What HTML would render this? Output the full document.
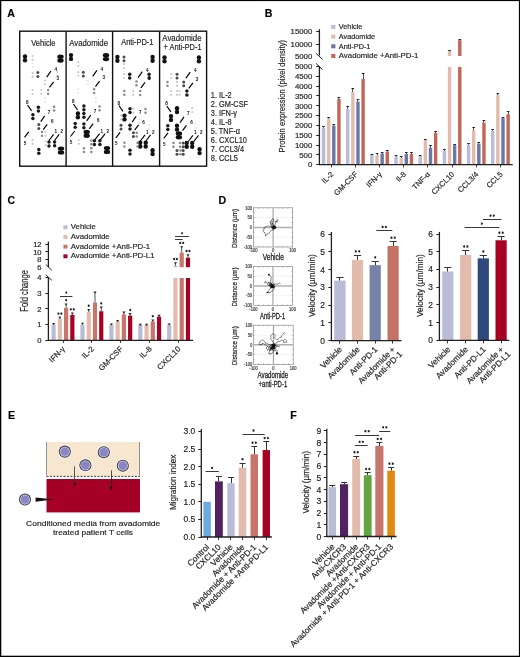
<!DOCTYPE html>
<html><head><meta charset="utf-8"><title>Figure</title>
<style>html,body{margin:0;padding:0;background:#fff;width:520px;height:657px;overflow:hidden;}text{font-family:"Liberation Sans", sans-serif;} text{stroke:#231f20;stroke-width:0.18px;paint-order:stroke;}</style>
</head><body>
<div style="position:absolute;left:0;top:0;width:520px;height:657px;will-change:transform;opacity:0.999">
<svg width="520" height="657" viewBox="0 0 520 657" style="display:block;font-family:'Liberation Sans', sans-serif">
<text transform="translate(7.30,17.20)" font-size="10.6" text-anchor="start" fill="#000" font-weight="bold" >A</text>
<rect x="19.7" y="31.2" width="186.90" height="135" fill="none" stroke="#111" stroke-width="1.4"/>
<line x1="66.10" y1="31.20" x2="66.10" y2="166.20" stroke="#111" stroke-width="1.4" />
<line x1="112.60" y1="31.20" x2="112.60" y2="166.20" stroke="#111" stroke-width="1.4" />
<line x1="159.60" y1="31.20" x2="159.60" y2="166.20" stroke="#111" stroke-width="1.4" />
<text transform="translate(43.40,45.60)" font-size="8.5" text-anchor="middle" fill="#231f20" textLength="24.3" lengthAdjust="spacingAndGlyphs" >Vehicle</text>
<text transform="translate(88.60,45.60)" font-size="8.5" text-anchor="middle" fill="#231f20" textLength="38.8" lengthAdjust="spacingAndGlyphs" >Avadomide</text>
<text transform="translate(137.30,45.40)" font-size="8.5" text-anchor="middle" fill="#231f20" textLength="32.3" lengthAdjust="spacingAndGlyphs" >Anti-PD-1</text>
<text transform="translate(181.90,40.70)" font-size="8.5" text-anchor="middle" fill="#231f20" textLength="39.2" lengthAdjust="spacingAndGlyphs" >Avadomide</text>
<text transform="translate(182.50,49.90)" font-size="8.5" text-anchor="middle" fill="#231f20" textLength="38.0" lengthAdjust="spacingAndGlyphs" >+ Anti-PD-1</text>
<circle cx="25.00" cy="56.50" r="2.20" fill="#111" />
<circle cx="25.00" cy="60.30" r="2.20" fill="#111" />
<ellipse cx="60.50" cy="56.70" rx="3.19" ry="2.20" fill="#111" />
<ellipse cx="60.50" cy="60.50" rx="3.19" ry="2.20" fill="#111" />
<circle cx="32.60" cy="56.00" r="1.10" fill="#c8c8c8" />
<circle cx="32.60" cy="59.80" r="1.10" fill="#c8c8c8" />
<circle cx="32.60" cy="63.40" r="1.00" fill="#e4e4e4" />
<circle cx="32.60" cy="67.20" r="1.00" fill="#e4e4e4" />
<circle cx="32.60" cy="73.00" r="1.10" fill="#c8c8c8" />
<circle cx="32.60" cy="76.80" r="1.10" fill="#c8c8c8" />
<circle cx="37.90" cy="72.60" r="1.50" fill="#4a4a4a" />
<circle cx="37.90" cy="76.40" r="1.50" fill="#4a4a4a" />
<circle cx="44.90" cy="80.50" r="1.10" fill="#c8c8c8" />
<circle cx="44.90" cy="84.30" r="1.10" fill="#c8c8c8" />
<circle cx="32.60" cy="90.00" r="1.10" fill="#c8c8c8" />
<circle cx="32.60" cy="93.80" r="1.10" fill="#c8c8c8" />
<circle cx="41.20" cy="90.00" r="1.10" fill="#c8c8c8" />
<circle cx="41.20" cy="93.80" r="1.10" fill="#c8c8c8" />
<circle cx="48.10" cy="90.00" r="1.25" fill="#8a8a8a" />
<circle cx="48.10" cy="93.80" r="1.25" fill="#8a8a8a" />
<circle cx="57.40" cy="72.00" r="1.10" fill="#c8c8c8" />
<circle cx="57.40" cy="75.80" r="1.10" fill="#c8c8c8" />
<circle cx="38.40" cy="107.20" r="1.75" fill="#1a1a1a" />
<circle cx="38.40" cy="111.00" r="1.75" fill="#1a1a1a" />
<circle cx="32.90" cy="114.70" r="1.75" fill="#1a1a1a" />
<circle cx="32.90" cy="118.50" r="1.75" fill="#1a1a1a" />
<circle cx="38.80" cy="124.60" r="1.50" fill="#4a4a4a" />
<circle cx="38.80" cy="128.40" r="1.50" fill="#4a4a4a" />
<circle cx="42.00" cy="132.00" r="1.25" fill="#8a8a8a" />
<circle cx="42.00" cy="135.80" r="1.25" fill="#8a8a8a" />
<circle cx="45.70" cy="132.00" r="1.10" fill="#c8c8c8" />
<circle cx="45.70" cy="135.80" r="1.10" fill="#c8c8c8" />
<circle cx="49.00" cy="142.10" r="1.75" fill="#1a1a1a" />
<circle cx="49.00" cy="145.90" r="1.75" fill="#1a1a1a" />
<circle cx="54.60" cy="141.90" r="1.75" fill="#1a1a1a" />
<circle cx="54.60" cy="145.70" r="1.75" fill="#1a1a1a" />
<ellipse cx="61.00" cy="148.60" rx="3.19" ry="2.20" fill="#111" />
<ellipse cx="61.00" cy="152.40" rx="3.19" ry="2.20" fill="#111" />
<circle cx="38.80" cy="149.50" r="1.75" fill="#1a1a1a" />
<circle cx="38.80" cy="153.30" r="1.75" fill="#1a1a1a" />
<circle cx="32.60" cy="140.00" r="1.10" fill="#c8c8c8" />
<circle cx="32.60" cy="143.80" r="1.10" fill="#c8c8c8" />
<circle cx="45.60" cy="141.50" r="1.10" fill="#c8c8c8" />
<circle cx="45.60" cy="145.30" r="1.10" fill="#c8c8c8" />
<circle cx="54.10" cy="106.80" r="1.25" fill="#8a8a8a" />
<circle cx="54.10" cy="110.60" r="1.25" fill="#8a8a8a" />
<circle cx="45.10" cy="98.00" r="1.00" fill="#e4e4e4" />
<circle cx="45.10" cy="101.80" r="1.00" fill="#e4e4e4" />
<circle cx="29.10" cy="132.00" r="1.00" fill="#e4e4e4" />
<circle cx="29.10" cy="135.80" r="1.00" fill="#e4e4e4" />
<circle cx="71.00" cy="55.10" r="2.20" fill="#111" />
<circle cx="71.00" cy="58.90" r="2.20" fill="#111" />
<ellipse cx="106.00" cy="55.30" rx="3.19" ry="2.20" fill="#111" />
<ellipse cx="106.00" cy="59.10" rx="3.19" ry="2.20" fill="#111" />
<circle cx="78.30" cy="62.00" r="1.10" fill="#c8c8c8" />
<circle cx="78.30" cy="65.80" r="1.10" fill="#c8c8c8" />
<circle cx="78.30" cy="72.00" r="1.10" fill="#c8c8c8" />
<circle cx="78.30" cy="75.80" r="1.10" fill="#c8c8c8" />
<circle cx="83.30" cy="72.20" r="1.50" fill="#4a4a4a" />
<circle cx="83.30" cy="76.00" r="1.50" fill="#4a4a4a" />
<circle cx="94.10" cy="89.20" r="1.25" fill="#8a8a8a" />
<circle cx="94.10" cy="93.00" r="1.25" fill="#8a8a8a" />
<circle cx="87.80" cy="80.50" r="1.00" fill="#e4e4e4" />
<circle cx="87.80" cy="84.30" r="1.00" fill="#e4e4e4" />
<circle cx="78.30" cy="89.00" r="1.00" fill="#e4e4e4" />
<circle cx="78.30" cy="92.80" r="1.00" fill="#e4e4e4" />
<circle cx="83.90" cy="106.00" r="1.75" fill="#1a1a1a" />
<circle cx="83.90" cy="109.80" r="1.75" fill="#1a1a1a" />
<circle cx="83.90" cy="113.50" r="1.75" fill="#1a1a1a" />
<circle cx="83.90" cy="117.30" r="1.75" fill="#1a1a1a" />
<circle cx="77.90" cy="113.50" r="2.20" fill="#111" />
<circle cx="77.90" cy="117.30" r="2.20" fill="#111" />
<circle cx="83.90" cy="124.00" r="1.75" fill="#1a1a1a" />
<circle cx="83.90" cy="127.80" r="1.75" fill="#1a1a1a" />
<circle cx="75.20" cy="123.40" r="1.75" fill="#1a1a1a" />
<circle cx="75.20" cy="127.20" r="1.75" fill="#1a1a1a" />
<ellipse cx="86.70" cy="132.00" rx="3.19" ry="2.20" fill="#111" />
<ellipse cx="86.70" cy="135.80" rx="3.19" ry="2.20" fill="#111" />
<circle cx="94.40" cy="140.80" r="1.75" fill="#1a1a1a" />
<circle cx="94.40" cy="144.60" r="1.75" fill="#1a1a1a" />
<circle cx="99.90" cy="140.80" r="1.75" fill="#1a1a1a" />
<circle cx="99.90" cy="144.60" r="1.75" fill="#1a1a1a" />
<ellipse cx="107.00" cy="148.10" rx="3.19" ry="2.20" fill="#111" />
<ellipse cx="107.00" cy="151.90" rx="3.19" ry="2.20" fill="#111" />
<circle cx="91.30" cy="140.50" r="1.25" fill="#8a8a8a" />
<circle cx="91.30" cy="144.30" r="1.25" fill="#8a8a8a" />
<circle cx="91.30" cy="148.30" r="1.25" fill="#8a8a8a" />
<circle cx="91.30" cy="152.10" r="1.25" fill="#8a8a8a" />
<circle cx="83.90" cy="148.30" r="1.25" fill="#8a8a8a" />
<circle cx="83.90" cy="152.10" r="1.25" fill="#8a8a8a" />
<circle cx="78.80" cy="140.00" r="1.10" fill="#c8c8c8" />
<circle cx="78.80" cy="143.80" r="1.10" fill="#c8c8c8" />
<circle cx="99.60" cy="106.40" r="1.25" fill="#8a8a8a" />
<circle cx="99.60" cy="110.20" r="1.25" fill="#8a8a8a" />
<circle cx="95.80" cy="98.00" r="1.00" fill="#e4e4e4" />
<circle cx="95.80" cy="101.80" r="1.00" fill="#e4e4e4" />
<circle cx="117.40" cy="56.90" r="2.20" fill="#111" />
<circle cx="117.40" cy="60.70" r="2.20" fill="#111" />
<circle cx="152.60" cy="56.90" r="2.20" fill="#111" />
<circle cx="152.60" cy="60.70" r="2.20" fill="#111" />
<circle cx="124.00" cy="56.90" r="1.50" fill="#4a4a4a" />
<circle cx="124.00" cy="60.70" r="1.50" fill="#4a4a4a" />
<circle cx="124.00" cy="64.20" r="1.10" fill="#c8c8c8" />
<circle cx="124.00" cy="68.00" r="1.10" fill="#c8c8c8" />
<circle cx="129.70" cy="74.20" r="1.75" fill="#1a1a1a" />
<circle cx="129.70" cy="78.00" r="1.75" fill="#1a1a1a" />
<circle cx="149.10" cy="74.20" r="1.75" fill="#1a1a1a" />
<circle cx="149.10" cy="78.00" r="1.75" fill="#1a1a1a" />
<circle cx="124.00" cy="74.20" r="1.10" fill="#c8c8c8" />
<circle cx="124.00" cy="78.00" r="1.10" fill="#c8c8c8" />
<circle cx="136.50" cy="81.40" r="1.25" fill="#8a8a8a" />
<circle cx="136.50" cy="85.20" r="1.25" fill="#8a8a8a" />
<circle cx="140.20" cy="91.10" r="1.25" fill="#8a8a8a" />
<circle cx="140.20" cy="94.90" r="1.25" fill="#8a8a8a" />
<circle cx="124.40" cy="91.00" r="1.25" fill="#8a8a8a" />
<circle cx="124.40" cy="94.80" r="1.25" fill="#8a8a8a" />
<circle cx="133.20" cy="91.00" r="1.10" fill="#c8c8c8" />
<circle cx="133.20" cy="94.80" r="1.10" fill="#c8c8c8" />
<circle cx="130.00" cy="108.70" r="1.75" fill="#1a1a1a" />
<circle cx="130.00" cy="112.50" r="1.75" fill="#1a1a1a" />
<circle cx="124.50" cy="115.60" r="2.20" fill="#111" />
<circle cx="124.50" cy="119.40" r="2.20" fill="#111" />
<circle cx="130.00" cy="125.30" r="1.75" fill="#1a1a1a" />
<circle cx="130.00" cy="129.10" r="1.75" fill="#1a1a1a" />
<circle cx="121.00" cy="125.30" r="1.50" fill="#4a4a4a" />
<circle cx="121.00" cy="129.10" r="1.50" fill="#4a4a4a" />
<circle cx="133.40" cy="132.70" r="1.50" fill="#4a4a4a" />
<circle cx="133.40" cy="136.50" r="1.50" fill="#4a4a4a" />
<circle cx="136.70" cy="132.70" r="1.25" fill="#8a8a8a" />
<circle cx="136.70" cy="136.50" r="1.25" fill="#8a8a8a" />
<circle cx="140.20" cy="142.70" r="2.20" fill="#111" />
<circle cx="140.20" cy="146.50" r="2.20" fill="#111" />
<circle cx="145.70" cy="142.70" r="2.20" fill="#111" />
<circle cx="145.70" cy="146.50" r="2.20" fill="#111" />
<circle cx="152.60" cy="150.20" r="2.20" fill="#111" />
<circle cx="152.60" cy="154.00" r="2.20" fill="#111" />
<circle cx="130.00" cy="150.20" r="1.75" fill="#1a1a1a" />
<circle cx="130.00" cy="154.00" r="1.75" fill="#1a1a1a" />
<circle cx="124.40" cy="142.70" r="1.25" fill="#8a8a8a" />
<circle cx="124.40" cy="146.50" r="1.25" fill="#8a8a8a" />
<circle cx="137.50" cy="142.70" r="1.25" fill="#8a8a8a" />
<circle cx="137.50" cy="146.50" r="1.25" fill="#8a8a8a" />
<circle cx="145.50" cy="109.00" r="1.25" fill="#8a8a8a" />
<circle cx="145.50" cy="112.80" r="1.25" fill="#8a8a8a" />
<circle cx="121.10" cy="115.60" r="1.10" fill="#c8c8c8" />
<circle cx="121.10" cy="119.40" r="1.10" fill="#c8c8c8" />
<circle cx="133.30" cy="108.70" r="1.10" fill="#c8c8c8" />
<circle cx="133.30" cy="112.50" r="1.10" fill="#c8c8c8" />
<circle cx="139.70" cy="119.40" r="1.00" fill="#e4e4e4" />
<circle cx="139.70" cy="123.20" r="1.00" fill="#e4e4e4" />
<circle cx="148.70" cy="125.00" r="1.00" fill="#e4e4e4" />
<circle cx="148.70" cy="128.80" r="1.00" fill="#e4e4e4" />
<circle cx="164.50" cy="57.40" r="2.20" fill="#111" />
<circle cx="164.50" cy="61.20" r="2.20" fill="#111" />
<circle cx="198.90" cy="57.40" r="2.20" fill="#111" />
<circle cx="198.90" cy="61.20" r="2.20" fill="#111" />
<circle cx="177.00" cy="74.20" r="1.50" fill="#4a4a4a" />
<circle cx="177.00" cy="78.00" r="1.50" fill="#4a4a4a" />
<circle cx="171.30" cy="74.20" r="1.10" fill="#c8c8c8" />
<circle cx="171.30" cy="78.00" r="1.10" fill="#c8c8c8" />
<circle cx="167.50" cy="81.90" r="1.25" fill="#8a8a8a" />
<circle cx="167.50" cy="85.70" r="1.25" fill="#8a8a8a" />
<circle cx="177.00" cy="81.90" r="1.10" fill="#c8c8c8" />
<circle cx="177.00" cy="85.70" r="1.10" fill="#c8c8c8" />
<circle cx="183.70" cy="81.90" r="1.50" fill="#4a4a4a" />
<circle cx="183.70" cy="85.70" r="1.50" fill="#4a4a4a" />
<circle cx="186.90" cy="91.10" r="1.75" fill="#1a1a1a" />
<circle cx="186.90" cy="94.90" r="1.75" fill="#1a1a1a" />
<circle cx="171.00" cy="91.00" r="1.10" fill="#c8c8c8" />
<circle cx="171.00" cy="94.80" r="1.10" fill="#c8c8c8" />
<circle cx="177.00" cy="91.00" r="1.10" fill="#c8c8c8" />
<circle cx="177.00" cy="94.80" r="1.10" fill="#c8c8c8" />
<circle cx="179.50" cy="91.00" r="1.10" fill="#c8c8c8" />
<circle cx="179.50" cy="94.80" r="1.10" fill="#c8c8c8" />
<circle cx="177.00" cy="108.20" r="2.20" fill="#111" />
<circle cx="177.00" cy="112.00" r="2.20" fill="#111" />
<circle cx="171.00" cy="116.10" r="2.20" fill="#111" />
<circle cx="171.00" cy="119.90" r="2.20" fill="#111" />
<circle cx="167.80" cy="125.80" r="1.75" fill="#1a1a1a" />
<circle cx="167.80" cy="129.60" r="1.75" fill="#1a1a1a" />
<circle cx="177.00" cy="125.80" r="2.20" fill="#111" />
<circle cx="177.00" cy="129.60" r="2.20" fill="#111" />
<ellipse cx="178.90" cy="133.40" rx="3.19" ry="2.20" fill="#111" />
<ellipse cx="178.90" cy="137.20" rx="3.19" ry="2.20" fill="#111" />
<circle cx="186.70" cy="142.90" r="2.20" fill="#111" />
<circle cx="186.70" cy="146.70" r="2.20" fill="#111" />
<circle cx="192.20" cy="142.90" r="2.20" fill="#111" />
<circle cx="192.20" cy="146.70" r="2.20" fill="#111" />
<circle cx="199.60" cy="149.30" r="2.20" fill="#111" />
<circle cx="199.60" cy="153.10" r="2.20" fill="#111" />
<circle cx="177.00" cy="150.40" r="1.50" fill="#4a4a4a" />
<circle cx="177.00" cy="154.20" r="1.50" fill="#4a4a4a" />
<circle cx="180.50" cy="150.40" r="1.25" fill="#8a8a8a" />
<circle cx="180.50" cy="154.20" r="1.25" fill="#8a8a8a" />
<circle cx="183.20" cy="142.90" r="1.50" fill="#4a4a4a" />
<circle cx="183.20" cy="146.70" r="1.50" fill="#4a4a4a" />
<circle cx="183.20" cy="150.40" r="1.50" fill="#4a4a4a" />
<circle cx="183.20" cy="154.20" r="1.50" fill="#4a4a4a" />
<circle cx="173.50" cy="143.00" r="1.25" fill="#8a8a8a" />
<circle cx="173.50" cy="146.80" r="1.25" fill="#8a8a8a" />
<circle cx="180.00" cy="143.00" r="1.25" fill="#8a8a8a" />
<circle cx="180.00" cy="146.80" r="1.25" fill="#8a8a8a" />
<circle cx="192.20" cy="108.20" r="1.10" fill="#c8c8c8" />
<circle cx="192.20" cy="112.00" r="1.10" fill="#c8c8c8" />
<circle cx="183.00" cy="116.00" r="1.00" fill="#e4e4e4" />
<circle cx="183.00" cy="119.80" r="1.00" fill="#e4e4e4" />
<circle cx="195.50" cy="124.00" r="1.00" fill="#e4e4e4" />
<circle cx="195.50" cy="127.80" r="1.00" fill="#e4e4e4" />
<line x1="46.70" y1="77.20" x2="50.90" y2="71.20" stroke="#000" stroke-width="1.15" />
<text transform="translate(55.90,71.40) scale(0.82,1)" font-size="5.6" text-anchor="middle" fill="#111" font-weight="bold" style="stroke:none">4</text>
<line x1="49.50" y1="87.40" x2="53.60" y2="81.90" stroke="#000" stroke-width="1.15" />
<text transform="translate(57.80,79.70) scale(0.82,1)" font-size="5.6" text-anchor="middle" fill="#111" font-weight="bold" style="stroke:none">3</text>
<line x1="27.50" y1="105.00" x2="31.60" y2="110.80" stroke="#000" stroke-width="1.15" />
<text transform="translate(27.30,104.00) scale(0.82,1)" font-size="5.6" text-anchor="middle" fill="#111" font-weight="bold" style="stroke:none">8</text>
<line x1="40.70" y1="121.60" x2="44.70" y2="115.90" stroke="#000" stroke-width="1.15" />
<text transform="translate(49.00,113.90) scale(0.82,1)" font-size="5.6" text-anchor="middle" fill="#111" font-weight="bold" style="stroke:none">7</text>
<line x1="43.20" y1="129.70" x2="47.20" y2="124.40" stroke="#000" stroke-width="1.15" />
<text transform="translate(52.20,123.20) scale(0.82,1)" font-size="5.6" text-anchor="middle" fill="#111" font-weight="bold" style="stroke:none">6</text>
<line x1="24.50" y1="137.30" x2="28.70" y2="131.80" stroke="#000" stroke-width="1.15" />
<text transform="translate(25.00,144.90) scale(0.82,1)" font-size="5.6" text-anchor="middle" fill="#111" font-weight="bold" style="stroke:none">5</text>
<line x1="49.00" y1="140.50" x2="53.60" y2="134.40" stroke="#000" stroke-width="1.15" />
<text transform="translate(55.90,133.30) scale(0.82,1)" font-size="5.6" text-anchor="middle" fill="#111" font-weight="bold" style="stroke:none">1</text>
<line x1="54.50" y1="140.50" x2="59.20" y2="134.40" stroke="#000" stroke-width="1.15" />
<text transform="translate(61.90,133.30) scale(0.82,1)" font-size="5.6" text-anchor="middle" fill="#111" font-weight="bold" style="stroke:none">2</text>
<line x1="92.70" y1="76.40" x2="96.90" y2="70.40" stroke="#000" stroke-width="1.15" />
<text transform="translate(101.90,70.60) scale(0.82,1)" font-size="5.6" text-anchor="middle" fill="#111" font-weight="bold" style="stroke:none">4</text>
<line x1="95.50" y1="86.60" x2="99.60" y2="81.10" stroke="#000" stroke-width="1.15" />
<text transform="translate(103.80,78.90) scale(0.82,1)" font-size="5.6" text-anchor="middle" fill="#111" font-weight="bold" style="stroke:none">3</text>
<line x1="73.50" y1="104.20" x2="77.60" y2="110.00" stroke="#000" stroke-width="1.15" />
<text transform="translate(73.30,103.20) scale(0.82,1)" font-size="5.6" text-anchor="middle" fill="#111" font-weight="bold" style="stroke:none">8</text>
<line x1="86.70" y1="120.80" x2="90.70" y2="115.10" stroke="#000" stroke-width="1.15" />
<text transform="translate(95.00,113.10) scale(0.82,1)" font-size="5.6" text-anchor="middle" fill="#111" font-weight="bold" style="stroke:none">7</text>
<line x1="89.20" y1="128.90" x2="93.20" y2="123.60" stroke="#000" stroke-width="1.15" />
<text transform="translate(98.20,122.40) scale(0.82,1)" font-size="5.6" text-anchor="middle" fill="#111" font-weight="bold" style="stroke:none">6</text>
<line x1="70.50" y1="136.50" x2="74.70" y2="131.00" stroke="#000" stroke-width="1.15" />
<text transform="translate(71.00,144.10) scale(0.82,1)" font-size="5.6" text-anchor="middle" fill="#111" font-weight="bold" style="stroke:none">5</text>
<line x1="95.00" y1="139.70" x2="99.60" y2="133.60" stroke="#000" stroke-width="1.15" />
<text transform="translate(101.90,132.50) scale(0.82,1)" font-size="5.6" text-anchor="middle" fill="#111" font-weight="bold" style="stroke:none">1</text>
<line x1="100.50" y1="139.70" x2="105.20" y2="133.60" stroke="#000" stroke-width="1.15" />
<text transform="translate(107.90,132.50) scale(0.82,1)" font-size="5.6" text-anchor="middle" fill="#111" font-weight="bold" style="stroke:none">2</text>
<line x1="138.10" y1="77.70" x2="142.30" y2="71.70" stroke="#000" stroke-width="1.15" />
<text transform="translate(147.30,71.90) scale(0.82,1)" font-size="5.6" text-anchor="middle" fill="#111" font-weight="bold" style="stroke:none">4</text>
<line x1="140.90" y1="87.90" x2="145.00" y2="82.40" stroke="#000" stroke-width="1.15" />
<text transform="translate(149.20,80.20) scale(0.82,1)" font-size="5.6" text-anchor="middle" fill="#111" font-weight="bold" style="stroke:none">3</text>
<line x1="118.90" y1="105.50" x2="123.00" y2="111.30" stroke="#000" stroke-width="1.15" />
<text transform="translate(118.70,104.50) scale(0.82,1)" font-size="5.6" text-anchor="middle" fill="#111" font-weight="bold" style="stroke:none">8</text>
<line x1="132.10" y1="122.10" x2="136.10" y2="116.40" stroke="#000" stroke-width="1.15" />
<text transform="translate(140.40,114.40) scale(0.82,1)" font-size="5.6" text-anchor="middle" fill="#111" font-weight="bold" style="stroke:none">7</text>
<line x1="134.60" y1="130.20" x2="138.60" y2="124.90" stroke="#000" stroke-width="1.15" />
<text transform="translate(143.60,123.70) scale(0.82,1)" font-size="5.6" text-anchor="middle" fill="#111" font-weight="bold" style="stroke:none">6</text>
<line x1="115.90" y1="137.80" x2="120.10" y2="132.30" stroke="#000" stroke-width="1.15" />
<text transform="translate(116.40,145.40) scale(0.82,1)" font-size="5.6" text-anchor="middle" fill="#111" font-weight="bold" style="stroke:none">5</text>
<line x1="140.40" y1="141.00" x2="145.00" y2="134.90" stroke="#000" stroke-width="1.15" />
<text transform="translate(147.30,133.80) scale(0.82,1)" font-size="5.6" text-anchor="middle" fill="#111" font-weight="bold" style="stroke:none">1</text>
<line x1="145.90" y1="141.00" x2="150.60" y2="134.90" stroke="#000" stroke-width="1.15" />
<text transform="translate(153.30,133.80) scale(0.82,1)" font-size="5.6" text-anchor="middle" fill="#111" font-weight="bold" style="stroke:none">2</text>
<line x1="186.00" y1="78.20" x2="190.20" y2="72.20" stroke="#000" stroke-width="1.15" />
<text transform="translate(195.20,72.40) scale(0.82,1)" font-size="5.6" text-anchor="middle" fill="#111" font-weight="bold" style="stroke:none">4</text>
<line x1="188.80" y1="88.40" x2="192.90" y2="82.90" stroke="#000" stroke-width="1.15" />
<text transform="translate(197.10,80.70) scale(0.82,1)" font-size="5.6" text-anchor="middle" fill="#111" font-weight="bold" style="stroke:none">3</text>
<line x1="166.80" y1="106.00" x2="170.90" y2="111.80" stroke="#000" stroke-width="1.15" />
<text transform="translate(166.60,105.00) scale(0.82,1)" font-size="5.6" text-anchor="middle" fill="#111" font-weight="bold" style="stroke:none">8</text>
<line x1="180.00" y1="122.60" x2="184.00" y2="116.90" stroke="#000" stroke-width="1.15" />
<text transform="translate(188.30,114.90) scale(0.82,1)" font-size="5.6" text-anchor="middle" fill="#111" font-weight="bold" style="stroke:none">7</text>
<line x1="182.50" y1="130.70" x2="186.50" y2="125.40" stroke="#000" stroke-width="1.15" />
<text transform="translate(191.50,124.20) scale(0.82,1)" font-size="5.6" text-anchor="middle" fill="#111" font-weight="bold" style="stroke:none">6</text>
<line x1="163.80" y1="138.30" x2="168.00" y2="132.80" stroke="#000" stroke-width="1.15" />
<text transform="translate(164.30,145.90) scale(0.82,1)" font-size="5.6" text-anchor="middle" fill="#111" font-weight="bold" style="stroke:none">5</text>
<line x1="188.30" y1="141.50" x2="192.90" y2="135.40" stroke="#000" stroke-width="1.15" />
<text transform="translate(195.20,134.30) scale(0.82,1)" font-size="5.6" text-anchor="middle" fill="#111" font-weight="bold" style="stroke:none">1</text>
<line x1="193.80" y1="141.50" x2="198.50" y2="135.40" stroke="#000" stroke-width="1.15" />
<text transform="translate(201.20,134.30) scale(0.82,1)" font-size="5.6" text-anchor="middle" fill="#111" font-weight="bold" style="stroke:none">2</text>
<text transform="translate(210.80,97.90) scale(0.89,1)" font-size="8.3" text-anchor="start" fill="#231f20" >1. IL-2</text>
<text transform="translate(210.80,106.95) scale(0.89,1)" font-size="8.3" text-anchor="start" fill="#231f20" >2. GM-CSF</text>
<text transform="translate(210.80,116.00) scale(0.89,1)" font-size="8.3" text-anchor="start" fill="#231f20" >3. IFN-γ</text>
<text transform="translate(210.80,125.05) scale(0.89,1)" font-size="8.3" text-anchor="start" fill="#231f20" >4. IL-8</text>
<text transform="translate(210.80,134.10) scale(0.89,1)" font-size="8.3" text-anchor="start" fill="#231f20" >5. TNF-α</text>
<text transform="translate(210.80,143.15) scale(0.89,1)" font-size="8.3" text-anchor="start" fill="#231f20" >6. CXCL10</text>
<text transform="translate(210.80,152.20) scale(0.89,1)" font-size="8.3" text-anchor="start" fill="#231f20" >7. CCL3/4</text>
<text transform="translate(210.80,161.25) scale(0.89,1)" font-size="8.3" text-anchor="start" fill="#231f20" >8. CCL5</text>
<text transform="translate(264.80,16.90)" font-size="10.6" text-anchor="start" fill="#000" font-weight="bold" >B</text>
<text transform="translate(312.30,167.30)" font-size="7.8" text-anchor="end" fill="#231f20" >0</text>
<text transform="translate(312.30,157.50)" font-size="7.8" text-anchor="end" fill="#231f20" >500</text>
<text transform="translate(312.30,147.70)" font-size="7.8" text-anchor="end" fill="#231f20" >1000</text>
<text transform="translate(312.30,137.90)" font-size="7.8" text-anchor="end" fill="#231f20" >1500</text>
<text transform="translate(312.30,128.10)" font-size="7.8" text-anchor="end" fill="#231f20" >2000</text>
<text transform="translate(312.30,118.30)" font-size="7.8" text-anchor="end" fill="#231f20" >2500</text>
<text transform="translate(312.30,108.50)" font-size="7.8" text-anchor="end" fill="#231f20" >3000</text>
<text transform="translate(312.30,98.70)" font-size="7.8" text-anchor="end" fill="#231f20" >3500</text>
<text transform="translate(312.30,88.90)" font-size="7.8" text-anchor="end" fill="#231f20" >4000</text>
<text transform="translate(312.30,79.10)" font-size="7.8" text-anchor="end" fill="#231f20" >4500</text>
<text transform="translate(312.30,69.10)" font-size="7.8" text-anchor="end" fill="#231f20" >5000</text>
<text transform="translate(312.30,34.30)" font-size="7.8" text-anchor="end" fill="#231f20" >15000</text>
<text transform="translate(312.30,46.80)" font-size="7.8" text-anchor="end" fill="#231f20" >10000</text>
<text transform="translate(312.30,58.80)" font-size="7.8" text-anchor="end" fill="#231f20" >5000</text>
<line x1="316.00" y1="53.40" x2="322.60" y2="59.40" stroke="#231f20" stroke-width="1.0" />
<line x1="316.00" y1="63.40" x2="322.60" y2="69.60" stroke="#231f20" stroke-width="1.0" />
<text transform="translate(284.60,96.20) rotate(-90)" font-size="8.8" text-anchor="middle" fill="#231f20" textLength="112.4" lengthAdjust="spacingAndGlyphs" >Protein expression (pixel density)</text>
<rect x="331.20" y="24.90" width="4.20" height="4.00" fill="#b8bcd5" />
<text transform="translate(338.80,29.30)" font-size="7.3" text-anchor="start" fill="#231f20" >Vehicle</text>
<rect x="331.20" y="34.60" width="4.20" height="4.00" fill="#e2bbad" />
<text transform="translate(338.80,39.00)" font-size="7.3" text-anchor="start" fill="#231f20" >Avadomide</text>
<rect x="331.20" y="44.30" width="4.20" height="4.00" fill="#6a78a6" />
<text transform="translate(338.80,48.70)" font-size="7.3" text-anchor="start" fill="#231f20" >Anti-PD-1</text>
<rect x="331.20" y="54.00" width="4.20" height="4.00" fill="#c1675a" />
<text transform="translate(338.80,58.40)" font-size="7.3" text-anchor="start" fill="#231f20" textLength="79.6" lengthAdjust="spacingAndGlyphs" >Avadomide +Anti-PD-1</text>
<line x1="331.50" y1="164.60" x2="331.50" y2="167.40" stroke="#231f20" stroke-width="0.9" />
<text transform="translate(334.00,174.80) rotate(-45)" font-size="7.6" text-anchor="end" fill="#231f20" >IL-2</text>
<rect x="321.85" y="127.69" width="3.40" height="36.91" fill="#b8bcd5" />
<line x1="323.50" y1="127.69" x2="323.50" y2="126.18" stroke="#222" stroke-width="0.8" />
<line x1="322.25" y1="126.50" x2="324.85" y2="126.50" stroke="#222" stroke-width="1.0" />
<rect x="326.98" y="118.50" width="3.40" height="46.10" fill="#e2bbad" />
<line x1="328.50" y1="118.50" x2="328.50" y2="117.17" stroke="#222" stroke-width="0.8" />
<line x1="327.38" y1="117.50" x2="329.98" y2="117.50" stroke="#222" stroke-width="1.0" />
<rect x="332.11" y="125.69" width="3.40" height="38.91" fill="#6a78a6" />
<line x1="333.50" y1="125.69" x2="333.50" y2="124.22" stroke="#222" stroke-width="0.8" />
<line x1="332.51" y1="124.50" x2="335.11" y2="124.50" stroke="#222" stroke-width="1.0" />
<rect x="337.24" y="98.80" width="3.40" height="65.80" fill="#c1675a" />
<line x1="338.50" y1="98.80" x2="338.50" y2="97.57" stroke="#222" stroke-width="0.8" />
<line x1="337.64" y1="97.50" x2="340.24" y2="97.50" stroke="#222" stroke-width="1.0" />
<line x1="355.50" y1="164.60" x2="355.50" y2="167.40" stroke="#231f20" stroke-width="0.9" />
<text transform="translate(358.17,174.80) rotate(-45)" font-size="7.6" text-anchor="end" fill="#231f20" >GM-CSF</text>
<rect x="346.02" y="108.80" width="3.40" height="55.80" fill="#b8bcd5" />
<line x1="347.50" y1="108.80" x2="347.50" y2="106.78" stroke="#222" stroke-width="0.8" />
<line x1="346.42" y1="106.50" x2="349.02" y2="106.50" stroke="#222" stroke-width="1.0" />
<rect x="351.15" y="91.90" width="3.40" height="72.70" fill="#e2bbad" />
<line x1="352.50" y1="91.90" x2="352.50" y2="88.71" stroke="#222" stroke-width="0.8" />
<line x1="351.55" y1="88.50" x2="354.15" y2="88.50" stroke="#222" stroke-width="1.0" />
<rect x="356.28" y="101.51" width="3.40" height="63.09" fill="#6a78a6" />
<line x1="357.50" y1="101.51" x2="357.50" y2="99.33" stroke="#222" stroke-width="0.8" />
<line x1="356.68" y1="99.50" x2="359.28" y2="99.50" stroke="#222" stroke-width="1.0" />
<rect x="361.41" y="79.01" width="3.40" height="85.59" fill="#c1675a" />
<line x1="363.50" y1="79.01" x2="363.50" y2="73.01" stroke="#222" stroke-width="0.8" />
<line x1="361.81" y1="73.50" x2="364.41" y2="73.50" stroke="#222" stroke-width="1.0" />
<line x1="379.50" y1="164.60" x2="379.50" y2="167.40" stroke="#231f20" stroke-width="0.9" />
<text transform="translate(382.34,174.80) rotate(-45)" font-size="7.6" text-anchor="end" fill="#231f20" >IFN-γ</text>
<rect x="370.19" y="154.60" width="3.40" height="10.00" fill="#b8bcd5" />
<line x1="371.50" y1="154.60" x2="371.50" y2="154.02" stroke="#222" stroke-width="0.8" />
<line x1="370.59" y1="154.50" x2="373.19" y2="154.50" stroke="#222" stroke-width="1.0" />
<rect x="375.32" y="155.41" width="3.40" height="9.19" fill="#e2bbad" />
<line x1="377.50" y1="155.41" x2="377.50" y2="153.62" stroke="#222" stroke-width="0.8" />
<line x1="375.72" y1="153.50" x2="378.32" y2="153.50" stroke="#222" stroke-width="1.0" />
<rect x="380.45" y="153.51" width="3.40" height="11.09" fill="#6a78a6" />
<line x1="382.50" y1="153.51" x2="382.50" y2="152.84" stroke="#222" stroke-width="0.8" />
<line x1="380.85" y1="152.50" x2="383.45" y2="152.50" stroke="#222" stroke-width="1.0" />
<rect x="385.58" y="151.51" width="3.40" height="13.09" fill="#c1675a" />
<line x1="387.50" y1="151.51" x2="387.50" y2="150.88" stroke="#222" stroke-width="0.8" />
<line x1="385.98" y1="150.50" x2="388.58" y2="150.50" stroke="#222" stroke-width="1.0" />
<line x1="403.50" y1="164.60" x2="403.50" y2="167.40" stroke="#231f20" stroke-width="0.9" />
<text transform="translate(406.51,174.80) rotate(-45)" font-size="7.6" text-anchor="end" fill="#231f20" >Il-8</text>
<rect x="394.36" y="156.51" width="3.40" height="8.09" fill="#b8bcd5" />
<line x1="396.50" y1="156.51" x2="396.50" y2="155.98" stroke="#222" stroke-width="0.8" />
<line x1="394.76" y1="155.50" x2="397.36" y2="155.50" stroke="#222" stroke-width="1.0" />
<rect x="399.49" y="157.90" width="3.40" height="6.70" fill="#e2bbad" />
<line x1="401.50" y1="157.90" x2="401.50" y2="156.51" stroke="#222" stroke-width="0.8" />
<line x1="399.89" y1="156.50" x2="402.49" y2="156.50" stroke="#222" stroke-width="1.0" />
<rect x="404.62" y="154.00" width="3.40" height="10.60" fill="#6a78a6" />
<line x1="406.50" y1="154.00" x2="406.50" y2="152.29" stroke="#222" stroke-width="0.8" />
<line x1="405.02" y1="152.50" x2="407.62" y2="152.50" stroke="#222" stroke-width="1.0" />
<rect x="409.75" y="154.00" width="3.40" height="10.60" fill="#c1675a" />
<line x1="411.50" y1="154.00" x2="411.50" y2="152.29" stroke="#222" stroke-width="0.8" />
<line x1="410.15" y1="152.50" x2="412.75" y2="152.50" stroke="#222" stroke-width="1.0" />
<line x1="427.50" y1="164.60" x2="427.50" y2="167.40" stroke="#231f20" stroke-width="0.9" />
<text transform="translate(430.68,174.80) rotate(-45)" font-size="7.6" text-anchor="end" fill="#231f20" >TNF-α</text>
<rect x="418.53" y="156.00" width="3.40" height="8.60" fill="#b8bcd5" />
<line x1="420.50" y1="156.00" x2="420.50" y2="155.39" stroke="#222" stroke-width="0.8" />
<line x1="418.93" y1="155.50" x2="421.53" y2="155.50" stroke="#222" stroke-width="1.0" />
<rect x="423.66" y="140.00" width="3.40" height="24.60" fill="#e2bbad" />
<line x1="425.50" y1="140.00" x2="425.50" y2="139.12" stroke="#222" stroke-width="0.8" />
<line x1="424.06" y1="139.50" x2="426.66" y2="139.50" stroke="#222" stroke-width="1.0" />
<rect x="428.79" y="147.70" width="3.40" height="16.90" fill="#6a78a6" />
<line x1="430.50" y1="147.70" x2="430.50" y2="145.98" stroke="#222" stroke-width="0.8" />
<line x1="429.19" y1="145.50" x2="431.79" y2="145.50" stroke="#222" stroke-width="1.0" />
<rect x="433.92" y="132.91" width="3.40" height="31.69" fill="#c1675a" />
<line x1="435.50" y1="132.91" x2="435.50" y2="131.48" stroke="#222" stroke-width="0.8" />
<line x1="434.32" y1="131.50" x2="436.92" y2="131.50" stroke="#222" stroke-width="1.0" />
<line x1="452.50" y1="164.60" x2="452.50" y2="167.40" stroke="#231f20" stroke-width="0.9" />
<text transform="translate(454.85,174.80) rotate(-45)" font-size="7.6" text-anchor="end" fill="#231f20" >CXCL10</text>
<rect x="442.70" y="150.80" width="3.40" height="13.80" fill="#b8bcd5" />
<line x1="444.50" y1="150.80" x2="444.50" y2="149.70" stroke="#222" stroke-width="0.8" />
<line x1="443.10" y1="149.50" x2="445.70" y2="149.50" stroke="#222" stroke-width="1.0" />
<rect x="447.83" y="66.90" width="3.40" height="97.70" fill="#e2bbad" />
<rect x="447.83" y="50.80" width="3.40" height="5.20" fill="#e2bbad" />
<line x1="449.50" y1="50.80" x2="449.50" y2="50.10" stroke="#222" stroke-width="0.8" />
<line x1="448.23" y1="50.50" x2="450.83" y2="50.50" stroke="#222" stroke-width="1.0" />
<rect x="452.96" y="145.10" width="3.40" height="19.50" fill="#6a78a6" />
<line x1="454.50" y1="145.10" x2="454.50" y2="144.22" stroke="#222" stroke-width="0.8" />
<line x1="453.36" y1="144.50" x2="455.96" y2="144.50" stroke="#222" stroke-width="1.0" />
<rect x="458.09" y="66.90" width="3.40" height="97.70" fill="#c1675a" />
<rect x="458.09" y="40.20" width="3.40" height="15.80" fill="#c1675a" />
<line x1="459.50" y1="40.20" x2="459.50" y2="39.52" stroke="#222" stroke-width="0.8" />
<line x1="458.49" y1="39.50" x2="461.09" y2="39.50" stroke="#222" stroke-width="1.0" />
<line x1="476.50" y1="164.60" x2="476.50" y2="167.40" stroke="#231f20" stroke-width="0.9" />
<text transform="translate(479.02,174.80) rotate(-45)" font-size="7.6" text-anchor="end" fill="#231f20" >CCL3/4</text>
<rect x="466.87" y="144.71" width="3.40" height="19.89" fill="#b8bcd5" />
<line x1="468.50" y1="144.71" x2="468.50" y2="143.63" stroke="#222" stroke-width="0.8" />
<line x1="467.27" y1="143.50" x2="469.87" y2="143.50" stroke="#222" stroke-width="1.0" />
<rect x="472.00" y="130.01" width="3.40" height="34.59" fill="#e2bbad" />
<line x1="473.50" y1="130.01" x2="473.50" y2="127.36" stroke="#222" stroke-width="0.8" />
<line x1="472.40" y1="127.50" x2="475.00" y2="127.50" stroke="#222" stroke-width="1.0" />
<rect x="477.13" y="143.71" width="3.40" height="20.89" fill="#6a78a6" />
<line x1="478.50" y1="143.71" x2="478.50" y2="142.84" stroke="#222" stroke-width="0.8" />
<line x1="477.53" y1="142.50" x2="480.13" y2="142.50" stroke="#222" stroke-width="1.0" />
<rect x="482.26" y="122.60" width="3.40" height="42.00" fill="#c1675a" />
<line x1="483.50" y1="122.60" x2="483.50" y2="120.50" stroke="#222" stroke-width="0.8" />
<line x1="482.66" y1="120.50" x2="485.26" y2="120.50" stroke="#222" stroke-width="1.0" />
<line x1="500.50" y1="164.60" x2="500.50" y2="167.40" stroke="#231f20" stroke-width="0.9" />
<text transform="translate(503.19,174.80) rotate(-45)" font-size="7.6" text-anchor="end" fill="#231f20" >CCL5</text>
<rect x="491.04" y="130.81" width="3.40" height="33.79" fill="#b8bcd5" />
<line x1="492.50" y1="130.81" x2="492.50" y2="129.91" stroke="#222" stroke-width="0.8" />
<line x1="491.44" y1="129.50" x2="494.04" y2="129.50" stroke="#222" stroke-width="1.0" />
<rect x="496.17" y="95.10" width="3.40" height="69.50" fill="#e2bbad" />
<line x1="497.50" y1="95.10" x2="497.50" y2="93.65" stroke="#222" stroke-width="0.8" />
<line x1="496.57" y1="93.50" x2="499.17" y2="93.50" stroke="#222" stroke-width="1.0" />
<rect x="501.30" y="118.21" width="3.40" height="46.39" fill="#6a78a6" />
<line x1="502.50" y1="118.21" x2="502.50" y2="117.17" stroke="#222" stroke-width="0.8" />
<line x1="501.70" y1="117.50" x2="504.30" y2="117.50" stroke="#222" stroke-width="1.0" />
<rect x="506.43" y="114.21" width="3.40" height="50.39" fill="#c1675a" />
<line x1="508.50" y1="114.21" x2="508.50" y2="111.88" stroke="#222" stroke-width="0.8" />
<line x1="506.83" y1="111.50" x2="509.43" y2="111.50" stroke="#222" stroke-width="1.0" />
<text transform="translate(7.40,203.90)" font-size="10.6" text-anchor="start" fill="#000" font-weight="bold" >C</text>
<rect x="63.40" y="225.40" width="4.10" height="3.90" fill="#b8bcd5" />
<text transform="translate(70.80,229.20)" font-size="7.8" text-anchor="start" fill="#231f20" >Vehicle</text>
<rect x="63.40" y="235.05" width="4.10" height="3.90" fill="#e2bbad" />
<text transform="translate(70.80,238.85)" font-size="7.8" text-anchor="start" fill="#231f20" >Avadomide</text>
<rect x="63.40" y="244.70" width="4.10" height="3.90" fill="#c8756b" />
<text transform="translate(70.80,248.50)" font-size="7.8" text-anchor="start" fill="#231f20" >Avadomide +Anti-PD-1</text>
<rect x="63.40" y="254.35" width="4.10" height="3.90" fill="#a60024" />
<text transform="translate(70.80,258.15)" font-size="7.8" text-anchor="start" fill="#231f20" >Avadomide +Anti-PD-L1</text>
<text transform="translate(41.60,343.00)" font-size="7.6" text-anchor="end" fill="#231f20" >0</text>
<text transform="translate(41.60,327.30)" font-size="7.6" text-anchor="end" fill="#231f20" >1</text>
<text transform="translate(41.60,311.60)" font-size="7.6" text-anchor="end" fill="#231f20" >2</text>
<text transform="translate(41.60,295.90)" font-size="7.6" text-anchor="end" fill="#231f20" >3</text>
<text transform="translate(41.60,280.20)" font-size="7.6" text-anchor="end" fill="#231f20" >4</text>
<text transform="translate(41.60,246.90)" font-size="7.6" text-anchor="end" fill="#231f20" >12</text>
<text transform="translate(41.60,254.50)" font-size="7.6" text-anchor="end" fill="#231f20" >10</text>
<text transform="translate(41.60,262.20)" font-size="7.6" text-anchor="end" fill="#231f20" >8</text>
<text transform="translate(41.60,270.40)" font-size="7.6" text-anchor="end" fill="#231f20" >6</text>
<line x1="45.80" y1="264.50" x2="51.90" y2="270.40" stroke="#231f20" stroke-width="1.0" />
<line x1="45.80" y1="274.70" x2="51.90" y2="280.40" stroke="#231f20" stroke-width="1.0" />
<text transform="translate(27.60,290.90) rotate(-90)" font-size="10.0" text-anchor="middle" fill="#231f20" textLength="41.6" lengthAdjust="spacingAndGlyphs" >Fold change</text>
<line x1="63.50" y1="340.30" x2="63.50" y2="342.90" stroke="#231f20" stroke-width="0.9" />
<text transform="translate(65.60,349.50) rotate(-45)" font-size="7.8" text-anchor="end" fill="#231f20" >IFN-γ</text>
<rect x="51.50" y="324.60" width="4.20" height="15.70" fill="#b8bcd5" />
<line x1="53.60" y1="324.60" x2="53.60" y2="323.81" stroke="#444" stroke-width="0.9" />
<path d="M52.00,323.01 L55.20,323.01 L53.60,325.12 Z" fill="#222"/>
<rect x="57.75" y="318.63" width="4.20" height="21.67" fill="#e2bbad" />
<line x1="59.85" y1="318.63" x2="59.85" y2="317.54" stroke="#444" stroke-width="0.9" />
<path d="M58.25,316.74 L61.45,316.74 L59.85,318.84 Z" fill="#222"/>
<circle cx="58.40" cy="313.54" r="0.90" fill="#1a1a1a" />
<line x1="58.50" y1="312.19" x2="58.50" y2="314.89" stroke="#1a1a1a" stroke-width="0.45" />
<line x1="57.23" y1="312.86" x2="59.57" y2="314.21" stroke="#1a1a1a" stroke-width="0.45" />
<line x1="59.57" y1="312.86" x2="57.23" y2="314.21" stroke="#1a1a1a" stroke-width="0.45" />
<circle cx="61.30" cy="313.54" r="0.90" fill="#1a1a1a" />
<line x1="61.50" y1="312.19" x2="61.50" y2="314.89" stroke="#1a1a1a" stroke-width="0.45" />
<line x1="60.13" y1="312.86" x2="62.47" y2="314.21" stroke="#1a1a1a" stroke-width="0.45" />
<line x1="62.47" y1="312.86" x2="60.13" y2="314.21" stroke="#1a1a1a" stroke-width="0.45" />
<rect x="64.00" y="307.96" width="4.20" height="32.34" fill="#c8756b" />
<line x1="66.10" y1="307.96" x2="66.10" y2="304.19" stroke="#444" stroke-width="0.9" />
<path d="M64.50,303.39 L67.70,303.39 L66.10,305.49 Z" fill="#222"/>
<circle cx="66.10" cy="300.19" r="0.90" fill="#1a1a1a" />
<line x1="66.50" y1="298.84" x2="66.50" y2="301.54" stroke="#1a1a1a" stroke-width="0.45" />
<line x1="64.93" y1="299.51" x2="67.27" y2="300.87" stroke="#1a1a1a" stroke-width="0.45" />
<line x1="67.27" y1="299.51" x2="64.93" y2="300.87" stroke="#1a1a1a" stroke-width="0.45" />
<rect x="70.25" y="314.87" width="4.20" height="25.43" fill="#a60024" />
<line x1="72.35" y1="314.87" x2="72.35" y2="313.30" stroke="#444" stroke-width="0.9" />
<path d="M70.75,312.50 L73.95,312.50 L72.35,314.60 Z" fill="#222"/>
<circle cx="70.90" cy="309.30" r="0.90" fill="#1a1a1a" />
<line x1="70.50" y1="307.95" x2="70.50" y2="310.65" stroke="#1a1a1a" stroke-width="0.45" />
<line x1="69.73" y1="308.62" x2="72.07" y2="309.97" stroke="#1a1a1a" stroke-width="0.45" />
<line x1="72.07" y1="308.62" x2="69.73" y2="309.97" stroke="#1a1a1a" stroke-width="0.45" />
<circle cx="73.80" cy="309.30" r="0.90" fill="#1a1a1a" />
<line x1="73.50" y1="307.95" x2="73.50" y2="310.65" stroke="#1a1a1a" stroke-width="0.45" />
<line x1="72.63" y1="308.62" x2="74.97" y2="309.97" stroke="#1a1a1a" stroke-width="0.45" />
<line x1="74.97" y1="308.62" x2="72.63" y2="309.97" stroke="#1a1a1a" stroke-width="0.45" />
<line x1="91.50" y1="340.30" x2="91.50" y2="342.90" stroke="#231f20" stroke-width="0.9" />
<text transform="translate(94.50,349.50) rotate(-45)" font-size="7.8" text-anchor="end" fill="#231f20" >IL-2</text>
<rect x="80.40" y="324.60" width="4.20" height="15.70" fill="#b8bcd5" />
<line x1="82.50" y1="324.60" x2="82.50" y2="323.50" stroke="#444" stroke-width="0.9" />
<path d="M80.90,322.70 L84.10,322.70 L82.50,324.80 Z" fill="#222"/>
<rect x="86.65" y="312.04" width="4.20" height="28.26" fill="#e2bbad" />
<line x1="88.75" y1="312.04" x2="88.75" y2="309.69" stroke="#444" stroke-width="0.9" />
<path d="M87.15,308.88 L90.35,308.88 L88.75,310.99 Z" fill="#222"/>
<circle cx="88.75" cy="305.69" r="0.90" fill="#1a1a1a" />
<line x1="88.50" y1="304.33" x2="88.50" y2="307.04" stroke="#1a1a1a" stroke-width="0.45" />
<line x1="87.58" y1="305.01" x2="89.92" y2="306.36" stroke="#1a1a1a" stroke-width="0.45" />
<line x1="89.92" y1="305.01" x2="87.58" y2="306.36" stroke="#1a1a1a" stroke-width="0.45" />
<rect x="92.90" y="302.62" width="4.20" height="37.68" fill="#c8756b" />
<line x1="95.00" y1="302.62" x2="95.00" y2="292.42" stroke="#444" stroke-width="0.9" />
<path d="M93.40,291.62 L96.60,291.62 L95.00,293.72 Z" fill="#222"/>
<rect x="99.15" y="311.25" width="4.20" height="29.05" fill="#a60024" />
<line x1="101.25" y1="311.25" x2="101.25" y2="307.33" stroke="#444" stroke-width="0.9" />
<path d="M99.65,306.53 L102.85,306.53 L101.25,308.63 Z" fill="#222"/>
<circle cx="101.25" cy="303.33" r="0.90" fill="#1a1a1a" />
<line x1="101.50" y1="301.98" x2="101.50" y2="304.68" stroke="#1a1a1a" stroke-width="0.45" />
<line x1="100.08" y1="302.66" x2="102.42" y2="304.01" stroke="#1a1a1a" stroke-width="0.45" />
<line x1="102.42" y1="302.66" x2="100.08" y2="304.01" stroke="#1a1a1a" stroke-width="0.45" />
<line x1="120.50" y1="340.30" x2="120.50" y2="342.90" stroke="#231f20" stroke-width="0.9" />
<text transform="translate(123.40,349.50) rotate(-45)" font-size="7.8" text-anchor="end" fill="#231f20" >GM-CSF</text>
<rect x="109.30" y="324.60" width="4.20" height="15.70" fill="#b8bcd5" />
<line x1="111.40" y1="324.60" x2="111.40" y2="324.29" stroke="#444" stroke-width="0.9" />
<path d="M109.80,323.49 L113.00,323.49 L111.40,325.59 Z" fill="#222"/>
<rect x="115.55" y="321.46" width="4.20" height="18.84" fill="#e2bbad" />
<line x1="117.65" y1="321.46" x2="117.65" y2="320.68" stroke="#444" stroke-width="0.9" />
<path d="M116.05,319.88 L119.25,319.88 L117.65,321.98 Z" fill="#222"/>
<rect x="121.80" y="314.40" width="4.20" height="25.90" fill="#c8756b" />
<line x1="123.90" y1="314.40" x2="123.90" y2="312.35" stroke="#444" stroke-width="0.9" />
<path d="M122.30,311.55 L125.50,311.55 L123.90,313.65 Z" fill="#222"/>
<rect x="128.05" y="315.65" width="4.20" height="24.65" fill="#a60024" />
<line x1="130.15" y1="315.65" x2="130.15" y2="313.92" stroke="#444" stroke-width="0.9" />
<path d="M128.55,313.12 L131.75,313.12 L130.15,315.22 Z" fill="#222"/>
<circle cx="130.15" cy="309.92" r="0.90" fill="#1a1a1a" />
<line x1="130.50" y1="308.57" x2="130.50" y2="311.27" stroke="#1a1a1a" stroke-width="0.45" />
<line x1="128.98" y1="309.25" x2="131.32" y2="310.60" stroke="#1a1a1a" stroke-width="0.45" />
<line x1="131.32" y1="309.25" x2="128.98" y2="310.60" stroke="#1a1a1a" stroke-width="0.45" />
<line x1="149.50" y1="340.30" x2="149.50" y2="342.90" stroke="#231f20" stroke-width="0.9" />
<text transform="translate(152.30,349.50) rotate(-45)" font-size="7.8" text-anchor="end" fill="#231f20" >IL-8</text>
<rect x="138.20" y="325.07" width="4.20" height="15.23" fill="#b8bcd5" />
<line x1="140.30" y1="325.07" x2="140.30" y2="324.60" stroke="#444" stroke-width="0.9" />
<path d="M138.70,323.80 L141.90,323.80 L140.30,325.90 Z" fill="#222"/>
<rect x="144.45" y="324.91" width="4.20" height="15.39" fill="#e2bbad" />
<line x1="146.55" y1="324.91" x2="146.55" y2="324.60" stroke="#444" stroke-width="0.9" />
<path d="M144.95,323.80 L148.15,323.80 L146.55,325.90 Z" fill="#222"/>
<rect x="150.70" y="321.46" width="4.20" height="18.84" fill="#c8756b" />
<line x1="152.80" y1="321.46" x2="152.80" y2="320.20" stroke="#444" stroke-width="0.9" />
<path d="M151.20,319.40 L154.40,319.40 L152.80,321.50 Z" fill="#222"/>
<circle cx="152.80" cy="316.20" r="0.90" fill="#1a1a1a" />
<line x1="152.50" y1="314.85" x2="152.50" y2="317.55" stroke="#1a1a1a" stroke-width="0.45" />
<line x1="151.63" y1="315.53" x2="153.97" y2="316.88" stroke="#1a1a1a" stroke-width="0.45" />
<line x1="153.97" y1="315.53" x2="151.63" y2="316.88" stroke="#1a1a1a" stroke-width="0.45" />
<rect x="156.95" y="316.75" width="4.20" height="23.55" fill="#a60024" />
<line x1="159.05" y1="316.75" x2="159.05" y2="315.65" stroke="#444" stroke-width="0.9" />
<path d="M157.45,314.85 L160.65,314.85 L159.05,316.95 Z" fill="#222"/>
<line x1="178.50" y1="340.30" x2="178.50" y2="342.90" stroke="#231f20" stroke-width="0.9" />
<text transform="translate(181.20,349.50) rotate(-45)" font-size="7.8" text-anchor="end" fill="#231f20" >CXCL10</text>
<rect x="167.10" y="324.60" width="4.20" height="15.70" fill="#b8bcd5" />
<line x1="169.20" y1="324.60" x2="169.20" y2="324.29" stroke="#444" stroke-width="0.9" />
<path d="M167.60,323.49 L170.80,323.49 L169.20,325.59 Z" fill="#222"/>
<rect x="173.35" y="278.00" width="4.20" height="62.30" fill="#e2bbad" />
<rect x="173.35" y="266.05" width="4.20" height="1.15" fill="#e2bbad" />
<line x1="175.45" y1="266.05" x2="175.45" y2="262.99" stroke="#444" stroke-width="0.9" />
<path d="M173.85,262.19 L177.05,262.19 L175.45,264.29 Z" fill="#222"/>
<circle cx="174.00" cy="258.99" r="0.90" fill="#1a1a1a" />
<line x1="174.50" y1="257.64" x2="174.50" y2="260.34" stroke="#1a1a1a" stroke-width="0.45" />
<line x1="172.83" y1="258.32" x2="175.17" y2="259.67" stroke="#1a1a1a" stroke-width="0.45" />
<line x1="175.17" y1="258.32" x2="172.83" y2="259.67" stroke="#1a1a1a" stroke-width="0.45" />
<circle cx="176.90" cy="258.99" r="0.90" fill="#1a1a1a" />
<line x1="176.50" y1="257.64" x2="176.50" y2="260.34" stroke="#1a1a1a" stroke-width="0.45" />
<line x1="175.73" y1="258.32" x2="178.07" y2="259.67" stroke="#1a1a1a" stroke-width="0.45" />
<line x1="178.07" y1="258.32" x2="175.73" y2="259.67" stroke="#1a1a1a" stroke-width="0.45" />
<rect x="179.60" y="278.00" width="4.20" height="62.30" fill="#c8756b" />
<rect x="179.60" y="252.66" width="4.20" height="14.53" fill="#c8756b" />
<line x1="181.70" y1="252.66" x2="181.70" y2="246.93" stroke="#444" stroke-width="0.9" />
<path d="M180.10,246.13 L183.30,246.13 L181.70,248.23 Z" fill="#222"/>
<circle cx="180.25" cy="242.93" r="0.90" fill="#1a1a1a" />
<line x1="180.50" y1="241.58" x2="180.50" y2="244.28" stroke="#1a1a1a" stroke-width="0.45" />
<line x1="179.08" y1="242.25" x2="181.42" y2="243.60" stroke="#1a1a1a" stroke-width="0.45" />
<line x1="181.42" y1="242.25" x2="179.08" y2="243.60" stroke="#1a1a1a" stroke-width="0.45" />
<circle cx="183.15" cy="242.93" r="0.90" fill="#1a1a1a" />
<line x1="183.50" y1="241.58" x2="183.50" y2="244.28" stroke="#1a1a1a" stroke-width="0.45" />
<line x1="181.98" y1="242.25" x2="184.32" y2="243.60" stroke="#1a1a1a" stroke-width="0.45" />
<line x1="184.32" y1="242.25" x2="181.98" y2="243.60" stroke="#1a1a1a" stroke-width="0.45" />
<rect x="185.85" y="278.00" width="4.20" height="62.30" fill="#a60024" />
<rect x="185.85" y="257.64" width="4.20" height="9.56" fill="#a60024" />
<line x1="187.95" y1="257.64" x2="187.95" y2="254.96" stroke="#444" stroke-width="0.9" />
<path d="M186.35,254.16 L189.55,254.16 L187.95,256.26 Z" fill="#222"/>
<circle cx="186.50" cy="250.96" r="0.90" fill="#1a1a1a" />
<line x1="186.50" y1="249.61" x2="186.50" y2="252.31" stroke="#1a1a1a" stroke-width="0.45" />
<line x1="185.33" y1="250.28" x2="187.67" y2="251.63" stroke="#1a1a1a" stroke-width="0.45" />
<line x1="187.67" y1="250.28" x2="185.33" y2="251.63" stroke="#1a1a1a" stroke-width="0.45" />
<circle cx="189.40" cy="250.96" r="0.90" fill="#1a1a1a" />
<line x1="189.50" y1="249.61" x2="189.50" y2="252.31" stroke="#1a1a1a" stroke-width="0.45" />
<line x1="188.23" y1="250.28" x2="190.57" y2="251.63" stroke="#1a1a1a" stroke-width="0.45" />
<line x1="190.57" y1="250.28" x2="188.23" y2="251.63" stroke="#1a1a1a" stroke-width="0.45" />
<line x1="60.00" y1="296.50" x2="72.40" y2="296.50" stroke="#231f20" stroke-width="0.9" />
<circle cx="66.20" cy="292.60" r="0.80" fill="#1a1a1a" />
<line x1="66.50" y1="291.40" x2="66.50" y2="293.80" stroke="#1a1a1a" stroke-width="0.45" />
<line x1="65.16" y1="292.00" x2="67.24" y2="293.20" stroke="#1a1a1a" stroke-width="0.45" />
<line x1="67.24" y1="292.00" x2="65.16" y2="293.20" stroke="#1a1a1a" stroke-width="0.45" />
<line x1="175.00" y1="236.50" x2="188.90" y2="236.50" stroke="#231f20" stroke-width="0.9" />
<line x1="175.00" y1="239.50" x2="182.60" y2="239.50" stroke="#231f20" stroke-width="0.9" />
<circle cx="182.00" cy="233.20" r="0.80" fill="#1a1a1a" />
<line x1="182.50" y1="232.00" x2="182.50" y2="234.40" stroke="#1a1a1a" stroke-width="0.45" />
<line x1="180.96" y1="232.60" x2="183.04" y2="233.80" stroke="#1a1a1a" stroke-width="0.45" />
<line x1="183.04" y1="232.60" x2="180.96" y2="233.80" stroke="#1a1a1a" stroke-width="0.45" />
<text transform="translate(218.50,203.90)" font-size="10.6" text-anchor="start" fill="#000" font-weight="bold" >D</text>
<rect x="253.50" y="207.80" width="39.20" height="39.20" fill="none" stroke="#8a8a8a" stroke-width="0.7"/>
<line x1="253.50" y1="217.60" x2="292.70" y2="217.60" stroke="#c8c8c8" stroke-width="0.45" stroke-dasharray="0.7 0.7"/>
<line x1="253.50" y1="237.20" x2="292.70" y2="237.20" stroke="#c8c8c8" stroke-width="0.45" stroke-dasharray="0.7 0.7"/>
<line x1="258.50" y1="207.80" x2="258.50" y2="209.00" stroke="#777" stroke-width="0.4" />
<line x1="258.50" y1="247.00" x2="258.50" y2="245.80" stroke="#777" stroke-width="0.4" />
<line x1="253.50" y1="212.50" x2="254.70" y2="212.50" stroke="#777" stroke-width="0.4" />
<line x1="292.70" y1="212.50" x2="291.50" y2="212.50" stroke="#777" stroke-width="0.4" />
<line x1="263.50" y1="207.80" x2="263.50" y2="209.00" stroke="#777" stroke-width="0.4" />
<line x1="263.50" y1="247.00" x2="263.50" y2="245.80" stroke="#777" stroke-width="0.4" />
<line x1="253.50" y1="217.50" x2="254.70" y2="217.50" stroke="#777" stroke-width="0.4" />
<line x1="292.70" y1="217.50" x2="291.50" y2="217.50" stroke="#777" stroke-width="0.4" />
<line x1="268.50" y1="207.80" x2="268.50" y2="209.00" stroke="#777" stroke-width="0.4" />
<line x1="268.50" y1="247.00" x2="268.50" y2="245.80" stroke="#777" stroke-width="0.4" />
<line x1="253.50" y1="222.50" x2="254.70" y2="222.50" stroke="#777" stroke-width="0.4" />
<line x1="292.70" y1="222.50" x2="291.50" y2="222.50" stroke="#777" stroke-width="0.4" />
<line x1="278.50" y1="207.80" x2="278.50" y2="209.00" stroke="#777" stroke-width="0.4" />
<line x1="278.50" y1="247.00" x2="278.50" y2="245.80" stroke="#777" stroke-width="0.4" />
<line x1="253.50" y1="232.50" x2="254.70" y2="232.50" stroke="#777" stroke-width="0.4" />
<line x1="292.70" y1="232.50" x2="291.50" y2="232.50" stroke="#777" stroke-width="0.4" />
<line x1="282.50" y1="207.80" x2="282.50" y2="209.00" stroke="#777" stroke-width="0.4" />
<line x1="282.50" y1="247.00" x2="282.50" y2="245.80" stroke="#777" stroke-width="0.4" />
<line x1="253.50" y1="237.50" x2="254.70" y2="237.50" stroke="#777" stroke-width="0.4" />
<line x1="292.70" y1="237.50" x2="291.50" y2="237.50" stroke="#777" stroke-width="0.4" />
<line x1="287.50" y1="207.80" x2="287.50" y2="209.00" stroke="#777" stroke-width="0.4" />
<line x1="287.50" y1="247.00" x2="287.50" y2="245.80" stroke="#777" stroke-width="0.4" />
<line x1="253.50" y1="242.50" x2="254.70" y2="242.50" stroke="#777" stroke-width="0.4" />
<line x1="292.70" y1="242.50" x2="291.50" y2="242.50" stroke="#777" stroke-width="0.4" />
<line x1="273.10" y1="207.80" x2="273.10" y2="247.00" stroke="#8a8a8a" stroke-width="0.9" />
<line x1="253.50" y1="227.40" x2="292.70" y2="227.40" stroke="#b0b0b0" stroke-width="1.5" />
<text transform="translate(252.10,209.50) scale(0.85,1)" font-size="4.8" text-anchor="end" fill="#444" >100</text>
<text transform="translate(252.10,219.30) scale(0.85,1)" font-size="4.8" text-anchor="end" fill="#444" >50</text>
<text transform="translate(252.10,229.10) scale(0.85,1)" font-size="4.8" text-anchor="end" fill="#444" >0</text>
<text transform="translate(252.10,238.90) scale(0.85,1)" font-size="4.8" text-anchor="end" fill="#444" >-50</text>
<text transform="translate(252.10,248.70) scale(0.85,1)" font-size="4.8" text-anchor="end" fill="#444" >-100</text>
<text transform="translate(253.50,252.00) scale(0.85,1)" font-size="4.8" text-anchor="middle" fill="#444" >-100</text>
<text transform="translate(273.10,252.00) scale(0.85,1)" font-size="4.8" text-anchor="middle" fill="#444" >0</text>
<text transform="translate(292.70,252.00) scale(0.85,1)" font-size="4.8" text-anchor="middle" fill="#444" >100</text>
<path d="M273.50,228.00 L272.61,227.42 L272.44,226.63 L271.00,226.00 L270.85,225.13 L270.23,224.04 L270.50,223.00 L271.18,222.59 L270.92,221.07 L272.00,220.50 L271.62,220.24 L272.67,218.47 L272.60,218.40 L273.67,219.91 L273.61,220.28 L273.80,221.00 L272.73,221.31 L272.65,222.36 L272.00,224.00 L272.23,224.30 L272.66,225.27 L274.00,226.00" fill="none" stroke="#1a1a1a" stroke-width="0.5" stroke-linejoin="round"/>
<path d="M274.00,227.00 L274.41,226.32 L275.02,224.89 L275.50,223.50 L275.33,223.07 L275.11,221.87 L275.00,221.50 L276.62,221.57 L277.32,220.54 L277.80,219.60 L277.01,220.08 L276.45,220.71 L276.20,222.20 L277.30,221.53 L278.14,220.99 L278.40,220.60" fill="none" stroke="#1a1a1a" stroke-width="0.5" stroke-linejoin="round"/>
<path d="M272.50,227.50 L272.15,227.66 L269.82,226.43 L269.50,226.50 L269.25,226.29 L268.52,226.03 L267.00,226.00 L265.74,226.68 L266.07,226.67 L265.00,227.50 L263.83,227.93 L264.46,229.18 L263.20,229.50 L262.93,230.13 L263.17,230.86 L264.00,232.50 L264.91,232.54 L265.07,233.42 L265.50,234.00 L265.23,235.05 L265.31,235.65 L266.00,236.20 L266.12,235.20 L266.92,234.10 L268.00,233.50 L269.48,233.26 L269.38,232.72 L270.50,231.50 L270.92,230.53 L272.65,230.05 L273.00,229.00" fill="none" stroke="#1a1a1a" stroke-width="0.5" stroke-linejoin="round"/>
<path d="M273.00,227.00 L271.95,226.86 L271.61,225.01 L271.50,224.50 L271.39,223.44 L270.22,222.25 L270.00,222.00 L269.82,221.79 L270.43,221.48 L271.20,221.00" fill="none" stroke="#1a1a1a" stroke-width="0.5" stroke-linejoin="round"/>
<path d="M273.80,226.50 L273.49,226.39 L274.59,226.35 L274.77,227.23 L274.01,226.40 L274.99,227.16 L274.39,226.42" fill="none" stroke="#1a1a1a" stroke-width="0.5" stroke-linejoin="round"/>
<path d="M273.80,226.50 L274.37,227.56 L273.65,228.64 L274.56,228.89 L274.38,227.93 L273.27,229.05 L272.64,229.54" fill="none" stroke="#1a1a1a" stroke-width="0.5" stroke-linejoin="round"/>
<path d="M273.80,226.50 L273.22,227.28 L273.45,226.78 L272.67,227.31 L271.63,226.66 L271.78,227.50 L272.05,226.98" fill="none" stroke="#1a1a1a" stroke-width="0.5" stroke-linejoin="round"/>
<path d="M273.80,226.50 L274.80,225.79 L273.64,225.24 L273.51,224.18 L272.73,223.87 L272.91,223.00 L272.58,223.94" fill="none" stroke="#1a1a1a" stroke-width="0.5" stroke-linejoin="round"/>
<path d="M273.80,226.50 L274.95,226.88 L275.41,227.08 L274.55,225.96 L273.39,226.95 L273.87,228.06 L272.73,228.39" fill="none" stroke="#1a1a1a" stroke-width="0.5" stroke-linejoin="round"/>
<path d="M273.80,226.50 L273.76,227.05 L273.32,228.25 L272.30,228.36 L272.87,229.32 L273.44,229.81 L274.15,230.00" fill="none" stroke="#1a1a1a" stroke-width="0.5" stroke-linejoin="round"/>
<path d="M273.80,226.50 L273.44,226.94 L274.41,227.83 L274.21,228.53 L275.08,228.71 L275.38,228.42 L275.58,228.69" fill="none" stroke="#1a1a1a" stroke-width="0.5" stroke-linejoin="round"/>
<path d="M273.80,226.50 L272.79,226.83 L273.98,227.75 L274.52,227.48 L275.09,227.67 L274.95,228.48 L273.95,229.09" fill="none" stroke="#1a1a1a" stroke-width="0.5" stroke-linejoin="round"/>
<path d="M273.80,226.50 L272.67,226.74 L272.63,226.10 L273.10,226.09 L273.38,227.10 L272.79,225.93 L272.31,226.35" fill="none" stroke="#1a1a1a" stroke-width="0.5" stroke-linejoin="round"/>
<path d="M273.80,226.50 L273.09,225.71 L274.06,226.09 L273.92,227.03 L273.51,227.43 L272.78,227.26 L273.52,228.26" fill="none" stroke="#1a1a1a" stroke-width="0.5" stroke-linejoin="round"/>
<ellipse cx="274.3" cy="227.3" rx="1.9" ry="1.5" fill="#111"/>
<text transform="translate(273.30,260.30)" font-size="8.6" text-anchor="middle" fill="#231f20" textLength="21.2" lengthAdjust="spacingAndGlyphs" style="stroke-width:0.3px">Vehicle</text>
<text transform="translate(236.50,228.50) rotate(-90)" font-size="7.2" text-anchor="middle" fill="#231f20" textLength="39" lengthAdjust="spacingAndGlyphs" >Distance (µm)</text>
<rect x="253.40" y="266.40" width="39.10" height="39.10" fill="none" stroke="#8a8a8a" stroke-width="0.7"/>
<line x1="253.40" y1="276.17" x2="292.50" y2="276.17" stroke="#c8c8c8" stroke-width="0.45" stroke-dasharray="0.7 0.7"/>
<line x1="253.40" y1="295.72" x2="292.50" y2="295.72" stroke="#c8c8c8" stroke-width="0.45" stroke-dasharray="0.7 0.7"/>
<line x1="258.50" y1="266.40" x2="258.50" y2="267.60" stroke="#777" stroke-width="0.4" />
<line x1="258.50" y1="305.50" x2="258.50" y2="304.30" stroke="#777" stroke-width="0.4" />
<line x1="253.40" y1="271.50" x2="254.60" y2="271.50" stroke="#777" stroke-width="0.4" />
<line x1="292.50" y1="271.50" x2="291.30" y2="271.50" stroke="#777" stroke-width="0.4" />
<line x1="263.50" y1="266.40" x2="263.50" y2="267.60" stroke="#777" stroke-width="0.4" />
<line x1="263.50" y1="305.50" x2="263.50" y2="304.30" stroke="#777" stroke-width="0.4" />
<line x1="253.40" y1="276.50" x2="254.60" y2="276.50" stroke="#777" stroke-width="0.4" />
<line x1="292.50" y1="276.50" x2="291.30" y2="276.50" stroke="#777" stroke-width="0.4" />
<line x1="268.50" y1="266.40" x2="268.50" y2="267.60" stroke="#777" stroke-width="0.4" />
<line x1="268.50" y1="305.50" x2="268.50" y2="304.30" stroke="#777" stroke-width="0.4" />
<line x1="253.40" y1="281.50" x2="254.60" y2="281.50" stroke="#777" stroke-width="0.4" />
<line x1="292.50" y1="281.50" x2="291.30" y2="281.50" stroke="#777" stroke-width="0.4" />
<line x1="277.50" y1="266.40" x2="277.50" y2="267.60" stroke="#777" stroke-width="0.4" />
<line x1="277.50" y1="305.50" x2="277.50" y2="304.30" stroke="#777" stroke-width="0.4" />
<line x1="253.40" y1="290.50" x2="254.60" y2="290.50" stroke="#777" stroke-width="0.4" />
<line x1="292.50" y1="290.50" x2="291.30" y2="290.50" stroke="#777" stroke-width="0.4" />
<line x1="282.50" y1="266.40" x2="282.50" y2="267.60" stroke="#777" stroke-width="0.4" />
<line x1="282.50" y1="305.50" x2="282.50" y2="304.30" stroke="#777" stroke-width="0.4" />
<line x1="253.40" y1="295.50" x2="254.60" y2="295.50" stroke="#777" stroke-width="0.4" />
<line x1="292.50" y1="295.50" x2="291.30" y2="295.50" stroke="#777" stroke-width="0.4" />
<line x1="287.50" y1="266.40" x2="287.50" y2="267.60" stroke="#777" stroke-width="0.4" />
<line x1="287.50" y1="305.50" x2="287.50" y2="304.30" stroke="#777" stroke-width="0.4" />
<line x1="253.40" y1="300.50" x2="254.60" y2="300.50" stroke="#777" stroke-width="0.4" />
<line x1="292.50" y1="300.50" x2="291.30" y2="300.50" stroke="#777" stroke-width="0.4" />
<line x1="272.95" y1="266.40" x2="272.95" y2="305.50" stroke="#8a8a8a" stroke-width="0.9" />
<line x1="253.40" y1="285.95" x2="292.50" y2="285.95" stroke="#b0b0b0" stroke-width="1.5" />
<text transform="translate(252.00,268.10) scale(0.85,1)" font-size="4.8" text-anchor="end" fill="#444" >100</text>
<text transform="translate(252.00,277.87) scale(0.85,1)" font-size="4.8" text-anchor="end" fill="#444" >50</text>
<text transform="translate(252.00,287.65) scale(0.85,1)" font-size="4.8" text-anchor="end" fill="#444" >0</text>
<text transform="translate(252.00,297.42) scale(0.85,1)" font-size="4.8" text-anchor="end" fill="#444" >-50</text>
<text transform="translate(252.00,307.20) scale(0.85,1)" font-size="4.8" text-anchor="end" fill="#444" >-100</text>
<text transform="translate(253.40,310.50) scale(0.85,1)" font-size="4.8" text-anchor="middle" fill="#444" >-100</text>
<text transform="translate(272.95,310.50) scale(0.85,1)" font-size="4.8" text-anchor="middle" fill="#444" >0</text>
<text transform="translate(292.50,310.50) scale(0.85,1)" font-size="4.8" text-anchor="middle" fill="#444" >100</text>
<path d="M272.00,286.00 L272.20,284.85 L271.46,283.76 L271.00,283.00 L270.33,282.01 L271.14,281.51 L270.50,280.00 L271.13,279.81 L270.85,277.89 L271.50,277.50 L270.77,276.53 L269.78,276.06 L269.50,275.50 L269.38,275.13 L268.65,275.25 L268.60,274.40" fill="none" stroke="#1a1a1a" stroke-width="0.5" stroke-linejoin="round"/>
<path d="M272.00,285.00 L271.68,284.44 L269.42,283.35 L269.00,283.50 L268.70,282.53 L267.64,282.94 L266.50,282.50 L265.67,282.97 L264.70,282.12 L264.80,282.70 L265.00,281.64 L265.79,281.54 L265.60,281.50" fill="none" stroke="#1a1a1a" stroke-width="0.5" stroke-linejoin="round"/>
<path d="M273.00,285.00 L273.49,284.04 L275.16,284.27 L276.00,284.00 L277.01,284.05 L278.08,284.31 L278.50,283.50 L279.42,283.11 L279.79,283.12 L280.50,283.60" fill="none" stroke="#1a1a1a" stroke-width="0.5" stroke-linejoin="round"/>
<path d="M272.00,287.00 L270.66,287.62 L270.98,287.87 L270.00,289.00 L269.19,289.44 L269.29,290.35 L268.50,291.00 L268.17,291.89 L267.36,292.46 L267.00,292.60 L268.23,292.15 L268.93,293.18 L269.00,293.00 L269.14,292.44 L270.50,292.58 L271.00,291.50 L271.49,291.10 L272.85,290.93 L273.00,290.00" fill="none" stroke="#1a1a1a" stroke-width="0.5" stroke-linejoin="round"/>
<path d="M271.00,284.00 L270.80,283.29 L269.56,282.27 L268.50,282.00 L268.48,283.11 L268.04,283.62 L267.50,284.00 L267.92,285.05 L269.82,285.66 L270.00,285.50" fill="none" stroke="#1a1a1a" stroke-width="0.5" stroke-linejoin="round"/>
<path d="M271.50,286.00 L271.60,286.76 L271.13,287.82 L272.05,287.43 L270.97,287.27 L271.10,287.97 L271.07,286.75 L271.87,285.61" fill="none" stroke="#1a1a1a" stroke-width="0.5" stroke-linejoin="round"/>
<path d="M271.50,286.00 L272.28,285.15 L271.85,285.90 L270.92,284.98 L270.96,285.57 L271.84,286.06 L273.00,286.04 L274.17,284.96" fill="none" stroke="#1a1a1a" stroke-width="0.5" stroke-linejoin="round"/>
<path d="M271.50,286.00 L270.78,286.07 L270.23,286.66 L270.59,286.72 L271.48,286.88 L271.00,286.57 L271.89,287.61 L271.13,288.52" fill="none" stroke="#1a1a1a" stroke-width="0.5" stroke-linejoin="round"/>
<path d="M271.50,286.00 L272.72,286.06 L272.91,285.29 L273.00,285.29 L273.27,284.07 L274.50,284.11 L274.24,284.89 L274.40,284.87" fill="none" stroke="#1a1a1a" stroke-width="0.5" stroke-linejoin="round"/>
<path d="M271.50,286.00 L272.00,284.87 L272.10,284.65 L273.29,285.75 L272.69,285.68 L271.72,285.51 L272.54,286.55 L272.47,286.07" fill="none" stroke="#1a1a1a" stroke-width="0.5" stroke-linejoin="round"/>
<path d="M271.50,286.00 L270.70,286.31 L271.80,285.34 L272.53,284.10 L271.73,283.39 L272.22,282.93 L271.84,283.24 L270.82,283.84" fill="none" stroke="#1a1a1a" stroke-width="0.5" stroke-linejoin="round"/>
<path d="M271.50,286.00 L270.52,286.03 L269.87,285.24 L269.95,285.08 L269.63,284.85 L269.70,283.97 L268.93,284.31 L269.29,284.39" fill="none" stroke="#1a1a1a" stroke-width="0.5" stroke-linejoin="round"/>
<path d="M271.50,286.00 L272.41,286.29 L273.34,285.60 L273.97,286.40 L275.01,285.92 L274.53,287.02 L273.80,288.32 L274.81,287.37" fill="none" stroke="#1a1a1a" stroke-width="0.5" stroke-linejoin="round"/>
<path d="M271.50,286.00 L270.82,286.59 L270.20,285.54 L271.06,285.34 L271.81,284.37 L271.56,284.85 L270.31,284.07 L270.78,285.14" fill="none" stroke="#1a1a1a" stroke-width="0.5" stroke-linejoin="round"/>
<path d="M271.50,286.00 L272.72,285.00 L272.73,285.67 L272.74,286.15 L271.93,285.04 L270.91,283.83 L271.04,283.87 L271.22,282.95" fill="none" stroke="#1a1a1a" stroke-width="0.5" stroke-linejoin="round"/>
<path d="M271.50,286.00 L270.68,285.23 L271.56,286.50 L272.67,285.45 L271.54,286.63 L271.44,287.31 L270.99,287.23 L271.03,287.05" fill="none" stroke="#1a1a1a" stroke-width="0.5" stroke-linejoin="round"/>
<path d="M271.50,286.00 L271.76,284.73 L272.29,285.63 L271.46,285.51 L272.08,285.26 L271.29,284.39 L271.32,283.13 L272.34,283.92" fill="none" stroke="#1a1a1a" stroke-width="0.5" stroke-linejoin="round"/>
<path d="M271.50,286.00 L272.03,286.94 L272.37,286.69 L272.63,286.70 L273.88,287.49 L273.25,288.56 L273.89,289.29 L274.71,289.04" fill="none" stroke="#1a1a1a" stroke-width="0.5" stroke-linejoin="round"/>
<path d="M271.50,286.00 L272.53,286.99 L273.04,287.68 L273.73,287.44 L274.31,286.32 L273.89,286.24 L272.62,285.86 L272.98,286.19" fill="none" stroke="#1a1a1a" stroke-width="0.5" stroke-linejoin="round"/>
<path d="M271.50,286.00 L270.80,287.16 L271.24,286.73 L271.65,286.92 L271.74,286.63 L273.04,287.00 L273.56,287.68 L274.81,286.44" fill="none" stroke="#1a1a1a" stroke-width="0.5" stroke-linejoin="round"/>
<path d="M271.50,286.00 L271.80,286.62 L271.17,286.36 L270.00,285.57 L269.68,284.53 L269.03,285.58 L269.16,285.60 L270.37,285.78" fill="none" stroke="#1a1a1a" stroke-width="0.5" stroke-linejoin="round"/>
<ellipse cx="272.3" cy="286.5" rx="1.8" ry="1.6" fill="#111"/>
<circle cx="268.8" cy="274.6" r="0.9" fill="#111"/>
<circle cx="267.3" cy="292.6" r="0.8" fill="#111"/>
<text transform="translate(272.60,319.40)" font-size="8.6" text-anchor="middle" fill="#231f20" textLength="25.0" lengthAdjust="spacingAndGlyphs" style="stroke-width:0.3px">Anti-PD-1</text>
<text transform="translate(236.50,286.90) rotate(-90)" font-size="7.2" text-anchor="middle" fill="#231f20" textLength="39" lengthAdjust="spacingAndGlyphs" >Distance (µm)</text>
<rect x="253.60" y="325.20" width="39.60" height="39.30" fill="none" stroke="#8a8a8a" stroke-width="0.7"/>
<line x1="253.60" y1="335.02" x2="293.20" y2="335.02" stroke="#c8c8c8" stroke-width="0.45" stroke-dasharray="0.7 0.7"/>
<line x1="253.60" y1="354.68" x2="293.20" y2="354.68" stroke="#c8c8c8" stroke-width="0.45" stroke-dasharray="0.7 0.7"/>
<line x1="258.50" y1="325.20" x2="258.50" y2="326.40" stroke="#777" stroke-width="0.4" />
<line x1="258.50" y1="364.50" x2="258.50" y2="363.30" stroke="#777" stroke-width="0.4" />
<line x1="253.60" y1="330.50" x2="254.80" y2="330.50" stroke="#777" stroke-width="0.4" />
<line x1="293.20" y1="330.50" x2="292.00" y2="330.50" stroke="#777" stroke-width="0.4" />
<line x1="263.50" y1="325.20" x2="263.50" y2="326.40" stroke="#777" stroke-width="0.4" />
<line x1="263.50" y1="364.50" x2="263.50" y2="363.30" stroke="#777" stroke-width="0.4" />
<line x1="253.60" y1="335.50" x2="254.80" y2="335.50" stroke="#777" stroke-width="0.4" />
<line x1="293.20" y1="335.50" x2="292.00" y2="335.50" stroke="#777" stroke-width="0.4" />
<line x1="268.50" y1="325.20" x2="268.50" y2="326.40" stroke="#777" stroke-width="0.4" />
<line x1="268.50" y1="364.50" x2="268.50" y2="363.30" stroke="#777" stroke-width="0.4" />
<line x1="253.60" y1="339.50" x2="254.80" y2="339.50" stroke="#777" stroke-width="0.4" />
<line x1="293.20" y1="339.50" x2="292.00" y2="339.50" stroke="#777" stroke-width="0.4" />
<line x1="278.50" y1="325.20" x2="278.50" y2="326.40" stroke="#777" stroke-width="0.4" />
<line x1="278.50" y1="364.50" x2="278.50" y2="363.30" stroke="#777" stroke-width="0.4" />
<line x1="253.60" y1="349.50" x2="254.80" y2="349.50" stroke="#777" stroke-width="0.4" />
<line x1="293.20" y1="349.50" x2="292.00" y2="349.50" stroke="#777" stroke-width="0.4" />
<line x1="283.50" y1="325.20" x2="283.50" y2="326.40" stroke="#777" stroke-width="0.4" />
<line x1="283.50" y1="364.50" x2="283.50" y2="363.30" stroke="#777" stroke-width="0.4" />
<line x1="253.60" y1="354.50" x2="254.80" y2="354.50" stroke="#777" stroke-width="0.4" />
<line x1="293.20" y1="354.50" x2="292.00" y2="354.50" stroke="#777" stroke-width="0.4" />
<line x1="288.50" y1="325.20" x2="288.50" y2="326.40" stroke="#777" stroke-width="0.4" />
<line x1="288.50" y1="364.50" x2="288.50" y2="363.30" stroke="#777" stroke-width="0.4" />
<line x1="253.60" y1="359.50" x2="254.80" y2="359.50" stroke="#777" stroke-width="0.4" />
<line x1="293.20" y1="359.50" x2="292.00" y2="359.50" stroke="#777" stroke-width="0.4" />
<line x1="273.40" y1="325.20" x2="273.40" y2="364.50" stroke="#8a8a8a" stroke-width="0.9" />
<line x1="253.60" y1="344.85" x2="293.20" y2="344.85" stroke="#b0b0b0" stroke-width="1.5" />
<text transform="translate(252.20,326.90) scale(0.85,1)" font-size="4.8" text-anchor="end" fill="#444" >100</text>
<text transform="translate(252.20,336.72) scale(0.85,1)" font-size="4.8" text-anchor="end" fill="#444" >50</text>
<text transform="translate(252.20,346.55) scale(0.85,1)" font-size="4.8" text-anchor="end" fill="#444" >0</text>
<text transform="translate(252.20,356.38) scale(0.85,1)" font-size="4.8" text-anchor="end" fill="#444" >-50</text>
<text transform="translate(252.20,366.20) scale(0.85,1)" font-size="4.8" text-anchor="end" fill="#444" >-100</text>
<text transform="translate(253.60,369.50) scale(0.85,1)" font-size="4.8" text-anchor="middle" fill="#444" >-100</text>
<text transform="translate(273.40,369.50) scale(0.85,1)" font-size="4.8" text-anchor="middle" fill="#444" >0</text>
<text transform="translate(293.20,369.50) scale(0.85,1)" font-size="4.8" text-anchor="middle" fill="#444" >100</text>
<path d="M273.50,345.00 L273.70,343.87 L272.94,341.77 L272.00,341.00 L271.81,340.21 L270.70,339.29 L271.00,337.50 L270.79,336.47 L271.06,335.51 L271.80,334.50 L272.68,333.72 L273.88,334.06 L274.00,334.00 L274.53,334.63 L274.80,334.69 L275.50,335.50 L275.22,336.41 L274.21,337.45 L274.00,338.00 L274.54,337.81 L275.29,338.35 L276.50,339.50 L276.84,339.53 L278.00,339.40 L279.00,338.50 L280.17,337.05 L281.33,337.47 L281.50,336.00 L281.56,335.74 L282.72,334.32 L283.50,333.50 L284.39,332.81 L283.99,333.45 L284.20,332.50" fill="none" stroke="#1a1a1a" stroke-width="0.5" stroke-linejoin="round"/>
<path d="M274.00,344.00 L275.30,343.30 L276.65,343.12 L277.00,342.00 L278.14,341.30 L279.15,341.61 L280.00,341.50 L280.58,340.54 L282.02,340.31 L283.00,340.50 L283.75,340.41 L284.59,339.51 L285.50,339.50 L285.95,340.05 L286.55,340.86 L286.50,341.50 L286.70,342.46 L285.84,341.79 L285.00,342.50 L283.80,342.62 L284.08,341.82 L283.00,341.20" fill="none" stroke="#1a1a1a" stroke-width="0.5" stroke-linejoin="round"/>
<path d="M272.50,345.50 L271.15,344.85 L270.45,344.93 L269.00,344.50 L268.14,344.26 L267.37,343.21 L266.00,343.20 L264.99,343.15 L265.26,342.28 L264.00,341.00 L262.53,340.12 L262.03,340.37 L261.50,340.20 L261.18,340.24 L260.57,340.79 L260.00,342.00 L259.16,343.17 L259.54,344.03 L259.20,344.80 L259.62,344.70 L259.98,344.45 L261.00,344.60 L262.17,344.71 L262.05,343.34 L263.50,343.50 L264.59,344.33 L265.20,344.42 L265.50,345.50 L266.22,345.66 L267.58,346.31 L268.00,347.00 L269.04,347.35 L269.41,346.41 L270.50,346.00" fill="none" stroke="#1a1a1a" stroke-width="0.5" stroke-linejoin="round"/>
<path d="M273.00,346.00 L272.68,347.41 L271.58,347.47 L271.00,348.50 L269.94,349.85 L269.42,349.57 L269.50,351.00 L269.26,351.80 L269.10,352.37 L268.50,353.50 L269.71,353.14 L269.75,354.19 L271.00,354.20 L271.07,353.20 L272.63,353.02 L273.00,352.00 L273.36,350.84 L274.12,351.00 L275.00,350.00 L275.31,350.29 L276.28,351.75 L276.50,352.50 L277.42,353.61 L277.74,353.40 L277.50,354.00" fill="none" stroke="#1a1a1a" stroke-width="0.5" stroke-linejoin="round"/>
<path d="M274.00,345.00 L275.41,345.06 L275.72,345.52 L277.00,346.00 L278.60,346.72 L278.63,346.14 L280.00,346.50" fill="none" stroke="#1a1a1a" stroke-width="0.5" stroke-linejoin="round"/>
<path d="M272.00,344.00 L270.82,345.13 L269.87,346.48 L269.00,348.00 L268.08,348.91 L268.43,349.71 L267.50,350.50 L267.64,349.60 L266.39,348.88 L266.50,347.50 L267.69,346.70 L267.15,346.53 L268.50,346.00" fill="none" stroke="#1a1a1a" stroke-width="0.5" stroke-linejoin="round"/>
<path d="M273.00,348.00 L273.11,348.18 L274.33,348.57 L275.12,347.44 L275.24,348.18 L274.16,347.10 L274.78,348.13 L273.70,348.48" fill="none" stroke="#1a1a1a" stroke-width="0.5" stroke-linejoin="round"/>
<path d="M273.00,348.00 L272.07,348.64 L272.46,347.98 L271.73,348.67 L271.79,349.36 L271.52,348.93 L272.73,349.38 L272.72,349.48" fill="none" stroke="#1a1a1a" stroke-width="0.5" stroke-linejoin="round"/>
<path d="M273.00,348.00 L273.57,348.54 L274.65,348.31 L275.50,348.74 L276.42,349.54 L277.29,350.55 L277.50,350.91 L277.50,351.46" fill="none" stroke="#1a1a1a" stroke-width="0.5" stroke-linejoin="round"/>
<path d="M273.00,348.00 L273.79,347.80 L273.58,346.88 L274.21,348.15 L273.88,347.29 L273.11,347.09 L272.57,348.32 L271.43,347.82" fill="none" stroke="#1a1a1a" stroke-width="0.5" stroke-linejoin="round"/>
<path d="M273.00,348.00 L272.00,348.38 L272.72,347.55 L271.58,347.44 L271.80,348.51 L270.59,347.49 L269.77,346.76 L269.08,347.32" fill="none" stroke="#1a1a1a" stroke-width="0.5" stroke-linejoin="round"/>
<path d="M273.00,348.00 L273.25,347.28 L272.43,346.71 L271.58,347.38 L271.09,347.51 L271.91,347.45 L271.29,348.46 L272.37,348.05" fill="none" stroke="#1a1a1a" stroke-width="0.5" stroke-linejoin="round"/>
<path d="M273.00,348.00 L273.12,349.19 L273.08,348.46 L271.91,349.63 L272.69,349.33 L272.76,349.37 L272.18,350.64 L272.59,349.96" fill="none" stroke="#1a1a1a" stroke-width="0.5" stroke-linejoin="round"/>
<path d="M273.00,348.00 L271.73,347.93 L271.39,348.70 L271.95,348.98 L271.06,348.08 L270.59,347.46 L271.55,347.50 L271.91,348.78" fill="none" stroke="#1a1a1a" stroke-width="0.5" stroke-linejoin="round"/>
<path d="M273.00,348.00 L272.39,348.09 L271.48,348.79 L270.19,349.63 L271.09,350.47 L270.00,349.87 L270.57,348.82 L270.51,348.74" fill="none" stroke="#1a1a1a" stroke-width="0.5" stroke-linejoin="round"/>
<path d="M273.00,348.00 L274.18,348.23 L275.11,347.71 L275.87,347.50 L276.95,346.44 L277.50,345.68 L277.50,345.74 L276.61,346.61" fill="none" stroke="#1a1a1a" stroke-width="0.5" stroke-linejoin="round"/>
<path d="M273.00,348.00 L272.51,347.51 L271.41,347.00 L271.32,347.56 L270.96,348.05 L269.93,347.77 L269.83,348.99 L270.69,349.39" fill="none" stroke="#1a1a1a" stroke-width="0.5" stroke-linejoin="round"/>
<path d="M273.00,348.00 L271.73,347.68 L272.28,347.00 L272.44,346.89 L271.17,348.17 L271.95,347.40 L272.25,346.86 L271.93,346.96" fill="none" stroke="#1a1a1a" stroke-width="0.5" stroke-linejoin="round"/>
<path d="M273.00,348.00 L272.48,347.58 L272.20,348.01 L271.56,347.23 L272.16,346.79 L273.32,346.95 L273.90,346.51 L274.75,345.45" fill="none" stroke="#1a1a1a" stroke-width="0.5" stroke-linejoin="round"/>
<path d="M273.00,348.00 L272.07,346.95 L272.53,347.49 L271.70,347.23 L272.57,347.47 L271.51,346.76 L270.61,345.79 L270.37,344.67" fill="none" stroke="#1a1a1a" stroke-width="0.5" stroke-linejoin="round"/>
<path d="M273.00,348.00 L274.09,347.81 L274.12,348.19 L274.82,349.03 L274.52,348.59 L274.29,347.33 L274.03,347.85 L275.29,348.60" fill="none" stroke="#1a1a1a" stroke-width="0.5" stroke-linejoin="round"/>
<path d="M273.00,348.00 L273.42,348.28 L272.16,347.84 L271.75,348.23 L270.73,347.92 L270.76,348.67 L271.60,348.96 L270.71,349.65" fill="none" stroke="#1a1a1a" stroke-width="0.5" stroke-linejoin="round"/>
<path d="M273.00,348.00 L274.05,348.13 L273.66,348.13 L272.73,348.68 L274.00,348.72 L274.56,349.60 L273.77,350.75 L274.10,349.97" fill="none" stroke="#1a1a1a" stroke-width="0.5" stroke-linejoin="round"/>
<path d="M273.00,348.00 L271.92,347.34 L272.12,347.85 L271.67,348.96 L271.31,348.87 L270.33,350.10 L269.39,351.15 L269.50,351.31" fill="none" stroke="#1a1a1a" stroke-width="0.5" stroke-linejoin="round"/>
<ellipse cx="273.6" cy="345.4" rx="2.2" ry="1.9" fill="#111"/>
<ellipse cx="277" cy="353.4" rx="1.3" ry="1.1" fill="#111"/>
<text transform="translate(272.90,378.00)" font-size="8.6" text-anchor="middle" fill="#231f20" textLength="30.6" lengthAdjust="spacingAndGlyphs" style="stroke-width:0.3px">Avadomide</text>
<text transform="translate(272.90,386.80)" font-size="8.6" text-anchor="middle" fill="#231f20" textLength="28.6" lengthAdjust="spacingAndGlyphs" style="stroke-width:0.3px">+anti-PD-1</text>
<text transform="translate(236.50,345.70) rotate(-90)" font-size="7.2" text-anchor="middle" fill="#231f20" textLength="39" lengthAdjust="spacingAndGlyphs" >Distance (µm)</text>
<text transform="translate(325.00,343.50)" font-size="8.4" text-anchor="end" fill="#231f20" >0</text>
<text transform="translate(325.00,325.75)" font-size="8.4" text-anchor="end" fill="#231f20" >1</text>
<text transform="translate(325.00,308.00)" font-size="8.4" text-anchor="end" fill="#231f20" >2</text>
<text transform="translate(325.00,290.25)" font-size="8.4" text-anchor="end" fill="#231f20" >3</text>
<text transform="translate(325.00,272.50)" font-size="8.4" text-anchor="end" fill="#231f20" >4</text>
<text transform="translate(325.00,254.75)" font-size="8.4" text-anchor="end" fill="#231f20" >5</text>
<text transform="translate(325.00,237.00)" font-size="8.4" text-anchor="end" fill="#231f20" >6</text>
<rect x="334.20" y="280.61" width="11.40" height="60.00" fill="#b8bcd5" />
<line x1="339.50" y1="280.61" x2="339.50" y2="277.23" stroke="#333" stroke-width="1.0" />
<line x1="336.30" y1="277.50" x2="343.50" y2="277.50" stroke="#333" stroke-width="1.0" />
<rect x="351.90" y="259.84" width="11.20" height="80.76" fill="#e2bbad" />
<line x1="357.50" y1="259.84" x2="357.50" y2="255.22" stroke="#333" stroke-width="1.0" />
<line x1="353.90" y1="255.50" x2="361.10" y2="255.50" stroke="#333" stroke-width="1.0" />
<circle cx="355.85" cy="251.32" r="0.90" fill="#1a1a1a" />
<line x1="355.50" y1="249.97" x2="355.50" y2="252.67" stroke="#1a1a1a" stroke-width="0.45" />
<line x1="354.68" y1="250.65" x2="357.02" y2="252.00" stroke="#1a1a1a" stroke-width="0.45" />
<line x1="357.02" y1="250.65" x2="354.68" y2="252.00" stroke="#1a1a1a" stroke-width="0.45" />
<circle cx="359.15" cy="251.32" r="0.90" fill="#1a1a1a" />
<line x1="359.50" y1="249.97" x2="359.50" y2="252.67" stroke="#1a1a1a" stroke-width="0.45" />
<line x1="357.98" y1="250.65" x2="360.32" y2="252.00" stroke="#1a1a1a" stroke-width="0.45" />
<line x1="360.32" y1="250.65" x2="357.98" y2="252.00" stroke="#1a1a1a" stroke-width="0.45" />
<rect x="369.60" y="265.16" width="11.20" height="75.44" fill="#7682a8" />
<line x1="375.50" y1="265.16" x2="375.50" y2="261.26" stroke="#333" stroke-width="1.0" />
<line x1="371.60" y1="261.50" x2="378.80" y2="261.50" stroke="#333" stroke-width="1.0" />
<circle cx="375.20" cy="257.36" r="0.90" fill="#1a1a1a" />
<line x1="375.50" y1="256.01" x2="375.50" y2="258.71" stroke="#1a1a1a" stroke-width="0.45" />
<line x1="374.03" y1="256.68" x2="376.37" y2="258.03" stroke="#1a1a1a" stroke-width="0.45" />
<line x1="376.37" y1="256.68" x2="374.03" y2="258.03" stroke="#1a1a1a" stroke-width="0.45" />
<rect x="387.50" y="245.99" width="11.20" height="94.61" fill="#c47266" />
<line x1="393.50" y1="245.99" x2="393.50" y2="241.56" stroke="#333" stroke-width="1.0" />
<line x1="389.50" y1="241.50" x2="396.70" y2="241.50" stroke="#333" stroke-width="1.0" />
<circle cx="391.45" cy="237.66" r="0.90" fill="#1a1a1a" />
<line x1="391.50" y1="236.31" x2="391.50" y2="239.00" stroke="#1a1a1a" stroke-width="0.45" />
<line x1="390.28" y1="236.98" x2="392.62" y2="238.33" stroke="#1a1a1a" stroke-width="0.45" />
<line x1="392.62" y1="236.98" x2="390.28" y2="238.33" stroke="#1a1a1a" stroke-width="0.45" />
<circle cx="394.75" cy="237.66" r="0.90" fill="#1a1a1a" />
<line x1="394.50" y1="236.31" x2="394.50" y2="239.00" stroke="#1a1a1a" stroke-width="0.45" />
<line x1="393.58" y1="236.98" x2="395.92" y2="238.33" stroke="#1a1a1a" stroke-width="0.45" />
<line x1="395.92" y1="236.98" x2="393.58" y2="238.33" stroke="#1a1a1a" stroke-width="0.45" />
<line x1="339.50" y1="340.60" x2="339.50" y2="343.60" stroke="#231f20" stroke-width="0.9" />
<line x1="357.50" y1="340.60" x2="357.50" y2="343.60" stroke="#231f20" stroke-width="0.9" />
<line x1="375.50" y1="340.60" x2="375.50" y2="343.60" stroke="#231f20" stroke-width="0.9" />
<line x1="392.50" y1="340.60" x2="392.50" y2="343.60" stroke="#231f20" stroke-width="0.9" />
<text transform="translate(315.00,285.70) rotate(-90)" font-size="9.0" text-anchor="middle" fill="#231f20" textLength="62.7" lengthAdjust="spacingAndGlyphs" >Velocity (µm/min)</text>
<text transform="translate(342.60,350.00) rotate(-45)" font-size="8.3" text-anchor="end" fill="#231f20" >Vehicle</text>
<text transform="translate(360.30,350.00) rotate(-45)" font-size="8.3" text-anchor="end" fill="#231f20" >Avadomide</text>
<text transform="translate(378.10,350.00) rotate(-45)" font-size="8.3" text-anchor="end" fill="#231f20" >Anti-PD-1</text>
<text transform="translate(395.80,350.00) rotate(-45)" font-size="8.3" text-anchor="end" fill="#231f20" >Avadomide +</text>
<text transform="translate(402.80,354.80) rotate(-45)" font-size="8.3" text-anchor="end" fill="#231f20" >Anti-PD-1</text>
<line x1="376.30" y1="230.50" x2="392.30" y2="230.50" stroke="#231f20" stroke-width="0.9" />
<circle cx="382.65" cy="227.00" r="0.90" fill="#1a1a1a" />
<line x1="382.50" y1="225.65" x2="382.50" y2="228.35" stroke="#1a1a1a" stroke-width="0.45" />
<line x1="381.48" y1="226.32" x2="383.82" y2="227.68" stroke="#1a1a1a" stroke-width="0.45" />
<line x1="383.82" y1="226.32" x2="381.48" y2="227.68" stroke="#1a1a1a" stroke-width="0.45" />
<circle cx="385.95" cy="227.00" r="0.90" fill="#1a1a1a" />
<line x1="385.50" y1="225.65" x2="385.50" y2="228.35" stroke="#1a1a1a" stroke-width="0.45" />
<line x1="384.78" y1="226.32" x2="387.12" y2="227.68" stroke="#1a1a1a" stroke-width="0.45" />
<line x1="387.12" y1="226.32" x2="384.78" y2="227.68" stroke="#1a1a1a" stroke-width="0.45" />
<text transform="translate(433.00,343.30)" font-size="8.4" text-anchor="end" fill="#231f20" >0</text>
<text transform="translate(433.00,325.58)" font-size="8.4" text-anchor="end" fill="#231f20" >1</text>
<text transform="translate(433.00,307.86)" font-size="8.4" text-anchor="end" fill="#231f20" >2</text>
<text transform="translate(433.00,290.14)" font-size="8.4" text-anchor="end" fill="#231f20" >3</text>
<text transform="translate(433.00,272.42)" font-size="8.4" text-anchor="end" fill="#231f20" >4</text>
<text transform="translate(433.00,254.70)" font-size="8.4" text-anchor="end" fill="#231f20" >5</text>
<text transform="translate(433.00,236.98)" font-size="8.4" text-anchor="end" fill="#231f20" >6</text>
<rect x="442.20" y="271.47" width="11.20" height="68.93" fill="#b8bcd5" />
<line x1="447.50" y1="271.47" x2="447.50" y2="267.22" stroke="#333" stroke-width="1.0" />
<line x1="444.20" y1="267.50" x2="451.40" y2="267.50" stroke="#333" stroke-width="1.0" />
<rect x="460.10" y="254.99" width="11.20" height="85.41" fill="#e2bbad" />
<line x1="465.50" y1="254.99" x2="465.50" y2="250.38" stroke="#333" stroke-width="1.0" />
<line x1="462.10" y1="250.50" x2="469.30" y2="250.50" stroke="#333" stroke-width="1.0" />
<circle cx="464.05" cy="246.48" r="0.90" fill="#1a1a1a" />
<line x1="464.50" y1="245.13" x2="464.50" y2="247.83" stroke="#1a1a1a" stroke-width="0.45" />
<line x1="462.88" y1="245.81" x2="465.22" y2="247.16" stroke="#1a1a1a" stroke-width="0.45" />
<line x1="465.22" y1="245.81" x2="462.88" y2="247.16" stroke="#1a1a1a" stroke-width="0.45" />
<circle cx="467.35" cy="246.48" r="0.90" fill="#1a1a1a" />
<line x1="467.50" y1="245.13" x2="467.50" y2="247.83" stroke="#1a1a1a" stroke-width="0.45" />
<line x1="466.18" y1="245.81" x2="468.52" y2="247.16" stroke="#1a1a1a" stroke-width="0.45" />
<line x1="468.52" y1="245.81" x2="466.18" y2="247.16" stroke="#1a1a1a" stroke-width="0.45" />
<rect x="477.70" y="258.36" width="11.20" height="82.04" fill="#2e4a7c" />
<line x1="483.50" y1="258.36" x2="483.50" y2="255.34" stroke="#333" stroke-width="1.0" />
<line x1="479.70" y1="255.50" x2="486.90" y2="255.50" stroke="#333" stroke-width="1.0" />
<circle cx="483.30" cy="251.44" r="0.90" fill="#1a1a1a" />
<line x1="483.50" y1="250.09" x2="483.50" y2="252.79" stroke="#1a1a1a" stroke-width="0.45" />
<line x1="482.13" y1="250.77" x2="484.47" y2="252.12" stroke="#1a1a1a" stroke-width="0.45" />
<line x1="484.47" y1="250.77" x2="482.13" y2="252.12" stroke="#1a1a1a" stroke-width="0.45" />
<rect x="495.50" y="240.28" width="11.20" height="100.12" fill="#a60024" />
<line x1="501.50" y1="240.28" x2="501.50" y2="236.56" stroke="#333" stroke-width="1.0" />
<line x1="497.50" y1="236.50" x2="504.70" y2="236.50" stroke="#333" stroke-width="1.0" />
<circle cx="499.45" cy="232.66" r="0.90" fill="#1a1a1a" />
<line x1="499.50" y1="231.31" x2="499.50" y2="234.01" stroke="#1a1a1a" stroke-width="0.45" />
<line x1="498.28" y1="231.99" x2="500.62" y2="233.34" stroke="#1a1a1a" stroke-width="0.45" />
<line x1="500.62" y1="231.99" x2="498.28" y2="233.34" stroke="#1a1a1a" stroke-width="0.45" />
<circle cx="502.75" cy="232.66" r="0.90" fill="#1a1a1a" />
<line x1="502.50" y1="231.31" x2="502.50" y2="234.01" stroke="#1a1a1a" stroke-width="0.45" />
<line x1="501.58" y1="231.99" x2="503.92" y2="233.34" stroke="#1a1a1a" stroke-width="0.45" />
<line x1="503.92" y1="231.99" x2="501.58" y2="233.34" stroke="#1a1a1a" stroke-width="0.45" />
<line x1="447.50" y1="340.40" x2="447.50" y2="343.40" stroke="#231f20" stroke-width="0.9" />
<line x1="465.50" y1="340.40" x2="465.50" y2="343.40" stroke="#231f20" stroke-width="0.9" />
<line x1="483.50" y1="340.40" x2="483.50" y2="343.40" stroke="#231f20" stroke-width="0.9" />
<line x1="501.50" y1="340.40" x2="501.50" y2="343.40" stroke="#231f20" stroke-width="0.9" />
<text transform="translate(422.50,285.70) rotate(-90)" font-size="9.0" text-anchor="middle" fill="#231f20" textLength="62.7" lengthAdjust="spacingAndGlyphs" >Velocity (µm/min)</text>
<text transform="translate(450.70,350.00) rotate(-45)" font-size="8.3" text-anchor="end" fill="#231f20" >Vehicle</text>
<text transform="translate(468.50,350.00) rotate(-45)" font-size="8.3" text-anchor="end" fill="#231f20" >Avadomide</text>
<text transform="translate(486.30,350.00) rotate(-45)" font-size="8.3" text-anchor="end" fill="#231f20" >Anti-PD-L1</text>
<text transform="translate(504.10,350.00) rotate(-45)" font-size="8.3" text-anchor="end" fill="#231f20" >Avadomide +</text>
<text transform="translate(511.10,354.80) rotate(-45)" font-size="8.3" text-anchor="end" fill="#231f20" >Anti-PD-L1</text>
<line x1="464.60" y1="227.50" x2="499.30" y2="227.50" stroke="#231f20" stroke-width="0.9" />
<circle cx="481.90" cy="223.60" r="0.90" fill="#1a1a1a" />
<line x1="481.50" y1="222.25" x2="481.50" y2="224.95" stroke="#1a1a1a" stroke-width="0.45" />
<line x1="480.73" y1="222.92" x2="483.07" y2="224.28" stroke="#1a1a1a" stroke-width="0.45" />
<line x1="483.07" y1="222.92" x2="480.73" y2="224.28" stroke="#1a1a1a" stroke-width="0.45" />
<line x1="483.00" y1="219.50" x2="501.40" y2="219.50" stroke="#231f20" stroke-width="0.9" />
<circle cx="490.55" cy="215.60" r="0.90" fill="#1a1a1a" />
<line x1="490.50" y1="214.25" x2="490.50" y2="216.95" stroke="#1a1a1a" stroke-width="0.45" />
<line x1="489.38" y1="214.92" x2="491.72" y2="216.28" stroke="#1a1a1a" stroke-width="0.45" />
<line x1="491.72" y1="214.92" x2="489.38" y2="216.28" stroke="#1a1a1a" stroke-width="0.45" />
<circle cx="493.85" cy="215.60" r="0.90" fill="#1a1a1a" />
<line x1="493.50" y1="214.25" x2="493.50" y2="216.95" stroke="#1a1a1a" stroke-width="0.45" />
<line x1="492.68" y1="214.92" x2="495.02" y2="216.28" stroke="#1a1a1a" stroke-width="0.45" />
<line x1="495.02" y1="214.92" x2="492.68" y2="216.28" stroke="#1a1a1a" stroke-width="0.45" />
<text transform="translate(7.90,419.30)" font-size="10.6" text-anchor="start" fill="#000" font-weight="bold" >E</text>
<rect x="46.50" y="442.10" width="93.50" height="34.00" fill="#f8e7d0" />
<line x1="46.50" y1="442.10" x2="46.50" y2="475.50" stroke="#777" stroke-width="0.8" />
<line x1="139.50" y1="442.10" x2="139.50" y2="475.50" stroke="#777" stroke-width="0.8" />
<line x1="46.50" y1="476.40" x2="140.00" y2="476.40" stroke="#222" stroke-width="0.9" stroke-dasharray="2 1.4"/>
<rect x="46.50" y="479.00" width="93.50" height="33.40" fill="#a50026" />
<circle cx="64.80" cy="451.60" r="6.85" fill="#fffbee" />
<circle cx="64.80" cy="451.60" r="6.05" fill="#333" />
<circle cx="64.80" cy="451.60" r="5.15" fill="#c2beea" />
<circle cx="64.80" cy="451.60" r="4.15" fill="#8b86c2" />
<circle cx="103.80" cy="452.20" r="6.85" fill="#fffbee" />
<circle cx="103.80" cy="452.20" r="6.05" fill="#333" />
<circle cx="103.80" cy="452.20" r="5.15" fill="#c2beea" />
<circle cx="103.80" cy="452.20" r="4.15" fill="#8b86c2" />
<circle cx="85.40" cy="465.30" r="6.85" fill="#fffbee" />
<circle cx="85.40" cy="465.30" r="6.05" fill="#333" />
<circle cx="85.40" cy="465.30" r="5.15" fill="#c2beea" />
<circle cx="85.40" cy="465.30" r="4.15" fill="#8b86c2" />
<circle cx="122.80" cy="465.70" r="6.85" fill="#fffbee" />
<circle cx="122.80" cy="465.70" r="6.05" fill="#333" />
<circle cx="122.80" cy="465.70" r="5.15" fill="#c2beea" />
<circle cx="122.80" cy="465.70" r="4.15" fill="#8b86c2" />
<line x1="74.50" y1="466.30" x2="74.50" y2="483.50" stroke="#333" stroke-width="0.8" />
<path d="M73.4,482.8 L76.4,482.8 L74.9,486.2 Z" fill="#111"/>
<line x1="111.50" y1="470.30" x2="111.50" y2="487.50" stroke="#222" stroke-width="0.8" />
<path d="M109.6,486.8 L112.6,486.8 L111.1,490.2 Z" fill="#111"/>
<circle cx="25.00" cy="499.60" r="6.00" fill="#333" />
<circle cx="25.00" cy="499.60" r="5.10" fill="#c2beea" />
<circle cx="25.00" cy="499.60" r="4.10" fill="#8b86c2" />
<path d="M35.6,497.4 L45,498.6 L53.6,499.6 L45,500.6 L35.6,501.8 Z" fill="#111"/>
<text transform="translate(93.20,526.00)" font-size="8.0" text-anchor="middle" fill="#231f20" textLength="134.2" lengthAdjust="spacingAndGlyphs" >Conditioned media from avadomide</text>
<text transform="translate(93.00,534.70)" font-size="8.0" text-anchor="middle" fill="#231f20" textLength="80.0" lengthAdjust="spacingAndGlyphs" >treated patient T cells</text>
<text transform="translate(195.30,539.90)" font-size="8.5" text-anchor="end" fill="#231f20" >0.0</text>
<text transform="translate(195.30,522.30)" font-size="8.5" text-anchor="end" fill="#231f20" >0.5</text>
<text transform="translate(195.30,504.70)" font-size="8.5" text-anchor="end" fill="#231f20" >1.0</text>
<text transform="translate(195.30,487.10)" font-size="8.5" text-anchor="end" fill="#231f20" >1.5</text>
<text transform="translate(195.30,469.50)" font-size="8.5" text-anchor="end" fill="#231f20" >2.0</text>
<text transform="translate(195.30,451.90)" font-size="8.5" text-anchor="end" fill="#231f20" >2.5</text>
<text transform="translate(195.30,434.30)" font-size="8.5" text-anchor="end" fill="#231f20" >3.0</text>
<text transform="translate(176.40,482.30) rotate(-90)" font-size="9.5" text-anchor="middle" fill="#231f20" textLength="55.5" lengthAdjust="spacingAndGlyphs" >Migration index</text>
<rect x="203.40" y="501.80" width="7.40" height="35.20" fill="#6aaae0" />
<rect x="215.00" y="481.38" width="7.80" height="55.62" fill="#52215f" />
<line x1="218.50" y1="481.38" x2="218.50" y2="476.81" stroke="#333" stroke-width="1.0" />
<line x1="215.90" y1="476.50" x2="221.90" y2="476.50" stroke="#333" stroke-width="1.0" />
<rect x="227.30" y="483.14" width="7.40" height="53.86" fill="#b8bcd5" />
<line x1="231.50" y1="483.14" x2="231.50" y2="477.16" stroke="#333" stroke-width="1.0" />
<line x1="228.00" y1="477.50" x2="234.00" y2="477.50" stroke="#333" stroke-width="1.0" />
<rect x="238.70" y="467.66" width="7.60" height="69.34" fill="#e2bbad" />
<line x1="242.50" y1="467.66" x2="242.50" y2="463.08" stroke="#333" stroke-width="1.0" />
<line x1="239.50" y1="463.50" x2="245.50" y2="463.50" stroke="#333" stroke-width="1.0" />
<circle cx="242.50" cy="459.18" r="0.90" fill="#1a1a1a" />
<line x1="242.50" y1="457.83" x2="242.50" y2="460.53" stroke="#1a1a1a" stroke-width="0.45" />
<line x1="241.33" y1="458.50" x2="243.67" y2="459.86" stroke="#1a1a1a" stroke-width="0.45" />
<line x1="243.67" y1="458.50" x2="241.33" y2="459.86" stroke="#1a1a1a" stroke-width="0.45" />
<rect x="250.50" y="454.28" width="7.50" height="82.72" fill="#c8756b" />
<line x1="254.50" y1="454.28" x2="254.50" y2="446.54" stroke="#333" stroke-width="1.0" />
<line x1="251.25" y1="446.50" x2="257.25" y2="446.50" stroke="#333" stroke-width="1.0" />
<circle cx="252.60" cy="442.64" r="0.90" fill="#1a1a1a" />
<line x1="252.50" y1="441.29" x2="252.50" y2="443.99" stroke="#1a1a1a" stroke-width="0.45" />
<line x1="251.43" y1="441.96" x2="253.77" y2="443.31" stroke="#1a1a1a" stroke-width="0.45" />
<line x1="253.77" y1="441.96" x2="251.43" y2="443.31" stroke="#1a1a1a" stroke-width="0.45" />
<circle cx="255.90" cy="442.64" r="0.90" fill="#1a1a1a" />
<line x1="255.50" y1="441.29" x2="255.50" y2="443.99" stroke="#1a1a1a" stroke-width="0.45" />
<line x1="254.73" y1="441.96" x2="257.07" y2="443.31" stroke="#1a1a1a" stroke-width="0.45" />
<line x1="257.07" y1="441.96" x2="254.73" y2="443.31" stroke="#1a1a1a" stroke-width="0.45" />
<rect x="262.60" y="450.06" width="7.40" height="86.94" fill="#a60024" />
<line x1="266.50" y1="450.06" x2="266.50" y2="441.96" stroke="#333" stroke-width="1.0" />
<line x1="263.30" y1="441.50" x2="269.30" y2="441.50" stroke="#333" stroke-width="1.0" />
<circle cx="264.65" cy="438.06" r="0.90" fill="#1a1a1a" />
<line x1="264.50" y1="436.71" x2="264.50" y2="439.41" stroke="#1a1a1a" stroke-width="0.45" />
<line x1="263.48" y1="437.38" x2="265.82" y2="438.74" stroke="#1a1a1a" stroke-width="0.45" />
<line x1="265.82" y1="437.38" x2="263.48" y2="438.74" stroke="#1a1a1a" stroke-width="0.45" />
<circle cx="267.95" cy="438.06" r="0.90" fill="#1a1a1a" />
<line x1="267.50" y1="436.71" x2="267.50" y2="439.41" stroke="#1a1a1a" stroke-width="0.45" />
<line x1="266.78" y1="437.38" x2="269.12" y2="438.74" stroke="#1a1a1a" stroke-width="0.45" />
<line x1="269.12" y1="437.38" x2="266.78" y2="438.74" stroke="#1a1a1a" stroke-width="0.45" />
<line x1="207.50" y1="537.00" x2="207.50" y2="540.00" stroke="#231f20" stroke-width="0.9" />
<text transform="translate(209.90,547.60) rotate(-45)" font-size="8.4" text-anchor="end" fill="#231f20" >Control</text>
<line x1="218.50" y1="537.00" x2="218.50" y2="540.00" stroke="#231f20" stroke-width="0.9" />
<text transform="translate(221.40,547.60) rotate(-45)" font-size="8.4" text-anchor="end" fill="#231f20" >CXCL10</text>
<line x1="230.50" y1="537.00" x2="230.50" y2="540.00" stroke="#231f20" stroke-width="0.9" />
<text transform="translate(233.20,547.60) rotate(-45)" font-size="8.4" text-anchor="end" fill="#231f20" >Vehicle</text>
<line x1="242.50" y1="537.00" x2="242.50" y2="540.00" stroke="#231f20" stroke-width="0.9" />
<text transform="translate(245.00,547.60) rotate(-45)" font-size="8.4" text-anchor="end" fill="#231f20" >Avadomide</text>
<line x1="254.50" y1="537.00" x2="254.50" y2="540.00" stroke="#231f20" stroke-width="0.9" />
<text transform="translate(256.80,547.60) rotate(-45)" font-size="8.4" text-anchor="end" fill="#231f20" >Avadomide + Anti-PD-1</text>
<line x1="266.50" y1="537.00" x2="266.50" y2="540.00" stroke="#231f20" stroke-width="0.9" />
<text transform="translate(268.80,547.60) rotate(-45)" font-size="8.4" text-anchor="end" fill="#231f20" >Avadomide +Anti-PD-L1</text>
<line x1="205.50" y1="471.50" x2="218.80" y2="471.50" stroke="#231f20" stroke-width="0.9" />
<circle cx="212.00" cy="467.90" r="0.90" fill="#1a1a1a" />
<line x1="212.50" y1="466.55" x2="212.50" y2="469.25" stroke="#1a1a1a" stroke-width="0.45" />
<line x1="210.83" y1="467.23" x2="213.17" y2="468.58" stroke="#1a1a1a" stroke-width="0.45" />
<line x1="213.17" y1="467.23" x2="210.83" y2="468.58" stroke="#1a1a1a" stroke-width="0.45" />
<line x1="242.50" y1="434.50" x2="264.70" y2="434.50" stroke="#231f20" stroke-width="0.9" />
<circle cx="253.50" cy="430.50" r="0.90" fill="#1a1a1a" />
<line x1="253.50" y1="429.15" x2="253.50" y2="431.85" stroke="#1a1a1a" stroke-width="0.45" />
<line x1="252.33" y1="429.82" x2="254.67" y2="431.18" stroke="#1a1a1a" stroke-width="0.45" />
<line x1="254.67" y1="429.82" x2="252.33" y2="431.18" stroke="#1a1a1a" stroke-width="0.45" />
<text transform="translate(290.20,419.30)" font-size="10.6" text-anchor="start" fill="#000" font-weight="bold" >F</text>
<text transform="translate(321.20,539.50)" font-size="8.6" text-anchor="end" fill="#231f20" >0</text>
<text transform="translate(321.20,527.75)" font-size="8.6" text-anchor="end" fill="#231f20" >1</text>
<text transform="translate(321.20,516.00)" font-size="8.6" text-anchor="end" fill="#231f20" >2</text>
<text transform="translate(321.20,504.25)" font-size="8.6" text-anchor="end" fill="#231f20" >3</text>
<text transform="translate(321.20,492.50)" font-size="8.6" text-anchor="end" fill="#231f20" >4</text>
<text transform="translate(321.20,480.75)" font-size="8.6" text-anchor="end" fill="#231f20" >5</text>
<text transform="translate(321.20,469.00)" font-size="8.6" text-anchor="end" fill="#231f20" >6</text>
<text transform="translate(321.20,457.25)" font-size="8.6" text-anchor="end" fill="#231f20" >7</text>
<text transform="translate(321.20,445.50)" font-size="8.6" text-anchor="end" fill="#231f20" >8</text>
<text transform="translate(321.20,433.75)" font-size="8.6" text-anchor="end" fill="#231f20" >9</text>
<text transform="translate(309.40,482.20) rotate(-90)" font-size="9.0" text-anchor="middle" fill="#231f20" textLength="62.4" lengthAdjust="spacingAndGlyphs" >Velocity (µm/min)</text>
<rect x="328.50" y="487.15" width="7.60" height="49.35" fill="#b8bcd5" />
<line x1="332.50" y1="487.15" x2="332.50" y2="485.27" stroke="#333" stroke-width="1.0" />
<line x1="329.30" y1="485.50" x2="335.30" y2="485.50" stroke="#333" stroke-width="1.0" />
<rect x="340.00" y="484.21" width="8.10" height="52.29" fill="#52215f" />
<line x1="344.50" y1="484.21" x2="344.50" y2="482.45" stroke="#333" stroke-width="1.0" />
<line x1="341.05" y1="482.50" x2="347.05" y2="482.50" stroke="#333" stroke-width="1.0" />
<rect x="352.20" y="458.95" width="7.90" height="77.55" fill="#e2bbad" />
<line x1="356.50" y1="458.95" x2="356.50" y2="456.13" stroke="#333" stroke-width="1.0" />
<line x1="353.15" y1="456.50" x2="359.15" y2="456.50" stroke="#333" stroke-width="1.0" />
<circle cx="354.50" cy="452.23" r="0.90" fill="#1a1a1a" />
<line x1="354.50" y1="450.88" x2="354.50" y2="453.58" stroke="#1a1a1a" stroke-width="0.45" />
<line x1="353.33" y1="451.56" x2="355.67" y2="452.91" stroke="#1a1a1a" stroke-width="0.45" />
<line x1="355.67" y1="451.56" x2="353.33" y2="452.91" stroke="#1a1a1a" stroke-width="0.45" />
<circle cx="357.80" cy="452.23" r="0.90" fill="#1a1a1a" />
<line x1="357.50" y1="450.88" x2="357.50" y2="453.58" stroke="#1a1a1a" stroke-width="0.45" />
<line x1="356.63" y1="451.56" x2="358.97" y2="452.91" stroke="#1a1a1a" stroke-width="0.45" />
<line x1="358.97" y1="451.56" x2="356.63" y2="452.91" stroke="#1a1a1a" stroke-width="0.45" />
<rect x="363.80" y="475.17" width="7.80" height="61.33" fill="#63a640" />
<line x1="367.50" y1="475.17" x2="367.50" y2="472.81" stroke="#333" stroke-width="1.0" />
<line x1="364.70" y1="472.50" x2="370.70" y2="472.50" stroke="#333" stroke-width="1.0" />
<circle cx="366.05" cy="468.92" r="0.90" fill="#1a1a1a" />
<line x1="366.50" y1="467.56" x2="366.50" y2="470.27" stroke="#1a1a1a" stroke-width="0.45" />
<line x1="364.88" y1="468.24" x2="367.22" y2="469.59" stroke="#1a1a1a" stroke-width="0.45" />
<line x1="367.22" y1="468.24" x2="364.88" y2="469.59" stroke="#1a1a1a" stroke-width="0.45" />
<circle cx="369.35" cy="468.92" r="0.90" fill="#1a1a1a" />
<line x1="369.50" y1="467.56" x2="369.50" y2="470.27" stroke="#1a1a1a" stroke-width="0.45" />
<line x1="368.18" y1="468.24" x2="370.52" y2="469.59" stroke="#1a1a1a" stroke-width="0.45" />
<line x1="370.52" y1="468.24" x2="368.18" y2="469.59" stroke="#1a1a1a" stroke-width="0.45" />
<rect x="375.30" y="446.02" width="8.10" height="90.48" fill="#c8756b" />
<line x1="379.50" y1="446.02" x2="379.50" y2="442.85" stroke="#333" stroke-width="1.0" />
<line x1="376.35" y1="442.50" x2="382.35" y2="442.50" stroke="#333" stroke-width="1.0" />
<circle cx="377.70" cy="438.95" r="0.90" fill="#1a1a1a" />
<line x1="377.50" y1="437.60" x2="377.50" y2="440.30" stroke="#1a1a1a" stroke-width="0.45" />
<line x1="376.53" y1="438.28" x2="378.87" y2="439.63" stroke="#1a1a1a" stroke-width="0.45" />
<line x1="378.87" y1="438.28" x2="376.53" y2="439.63" stroke="#1a1a1a" stroke-width="0.45" />
<circle cx="381.00" cy="438.95" r="0.90" fill="#1a1a1a" />
<line x1="381.50" y1="437.60" x2="381.50" y2="440.30" stroke="#1a1a1a" stroke-width="0.45" />
<line x1="379.83" y1="438.28" x2="382.17" y2="439.63" stroke="#1a1a1a" stroke-width="0.45" />
<line x1="382.17" y1="438.28" x2="379.83" y2="439.63" stroke="#1a1a1a" stroke-width="0.45" />
<rect x="387.30" y="470.70" width="7.60" height="65.80" fill="#e08a14" />
<line x1="391.50" y1="470.70" x2="391.50" y2="467.53" stroke="#333" stroke-width="1.0" />
<line x1="388.10" y1="467.50" x2="394.10" y2="467.50" stroke="#333" stroke-width="1.0" />
<circle cx="389.45" cy="463.63" r="0.90" fill="#1a1a1a" />
<line x1="389.50" y1="462.28" x2="389.50" y2="464.98" stroke="#1a1a1a" stroke-width="0.45" />
<line x1="388.28" y1="462.95" x2="390.62" y2="464.30" stroke="#1a1a1a" stroke-width="0.45" />
<line x1="390.62" y1="462.95" x2="388.28" y2="464.30" stroke="#1a1a1a" stroke-width="0.45" />
<circle cx="392.75" cy="463.63" r="0.90" fill="#1a1a1a" />
<line x1="392.50" y1="462.28" x2="392.50" y2="464.98" stroke="#1a1a1a" stroke-width="0.45" />
<line x1="391.58" y1="462.95" x2="393.92" y2="464.30" stroke="#1a1a1a" stroke-width="0.45" />
<line x1="393.92" y1="462.95" x2="391.58" y2="464.30" stroke="#1a1a1a" stroke-width="0.45" />
<line x1="332.50" y1="536.50" x2="332.50" y2="539.50" stroke="#231f20" stroke-width="0.9" />
<text transform="translate(335.20,547.20) rotate(-45)" font-size="8.4" text-anchor="end" fill="#231f20" >Vehicle</text>
<line x1="344.50" y1="536.50" x2="344.50" y2="539.50" stroke="#231f20" stroke-width="0.9" />
<text transform="translate(346.80,547.20) rotate(-45)" font-size="8.4" text-anchor="end" fill="#231f20" >Anti-CXCR3</text>
<line x1="356.50" y1="536.50" x2="356.50" y2="539.50" stroke="#231f20" stroke-width="0.9" />
<text transform="translate(358.80,547.20) rotate(-45)" font-size="8.4" text-anchor="end" fill="#231f20" >Avadomide</text>
<line x1="367.50" y1="536.50" x2="367.50" y2="539.50" stroke="#231f20" stroke-width="0.9" />
<text transform="translate(370.30,547.20) rotate(-45)" font-size="8.4" text-anchor="end" fill="#231f20" >Avadomide +Anti-CXCR3</text>
<line x1="379.50" y1="536.50" x2="379.50" y2="539.50" stroke="#231f20" stroke-width="0.9" />
<text transform="translate(381.80,547.20) rotate(-45)" font-size="8.4" text-anchor="end" fill="#231f20" >Avadomide + Anti-PD-1</text>
<line x1="391.50" y1="536.50" x2="391.50" y2="539.50" stroke="#231f20" stroke-width="0.9" />
<text transform="translate(393.90,547.20) rotate(-45)" font-size="8.4" text-anchor="end" fill="#231f20" >Avadomide + Anti-PD-1 + Anti-CXCR3</text>
<line x1="355.00" y1="445.50" x2="367.70" y2="445.50" stroke="#231f20" stroke-width="0.9" />
<circle cx="359.65" cy="441.80" r="0.90" fill="#1a1a1a" />
<line x1="359.50" y1="440.45" x2="359.50" y2="443.15" stroke="#1a1a1a" stroke-width="0.45" />
<line x1="358.48" y1="441.12" x2="360.82" y2="442.48" stroke="#1a1a1a" stroke-width="0.45" />
<line x1="360.82" y1="441.12" x2="358.48" y2="442.48" stroke="#1a1a1a" stroke-width="0.45" />
<circle cx="362.95" cy="441.80" r="0.90" fill="#1a1a1a" />
<line x1="362.50" y1="440.45" x2="362.50" y2="443.15" stroke="#1a1a1a" stroke-width="0.45" />
<line x1="361.78" y1="441.12" x2="364.12" y2="442.48" stroke="#1a1a1a" stroke-width="0.45" />
<line x1="364.12" y1="441.12" x2="361.78" y2="442.48" stroke="#1a1a1a" stroke-width="0.45" />
<line x1="355.00" y1="435.50" x2="379.20" y2="435.50" stroke="#231f20" stroke-width="0.9" />
<circle cx="365.45" cy="431.20" r="0.90" fill="#1a1a1a" />
<line x1="365.50" y1="429.85" x2="365.50" y2="432.55" stroke="#1a1a1a" stroke-width="0.45" />
<line x1="364.28" y1="430.53" x2="366.62" y2="431.88" stroke="#1a1a1a" stroke-width="0.45" />
<line x1="366.62" y1="430.53" x2="364.28" y2="431.88" stroke="#1a1a1a" stroke-width="0.45" />
<circle cx="368.75" cy="431.20" r="0.90" fill="#1a1a1a" />
<line x1="368.50" y1="429.85" x2="368.50" y2="432.55" stroke="#1a1a1a" stroke-width="0.45" />
<line x1="367.58" y1="430.53" x2="369.92" y2="431.88" stroke="#1a1a1a" stroke-width="0.45" />
<line x1="369.92" y1="430.53" x2="367.58" y2="431.88" stroke="#1a1a1a" stroke-width="0.45" />
<line x1="379.20" y1="431.50" x2="390.30" y2="431.50" stroke="#231f20" stroke-width="0.9" />
<circle cx="383.05" cy="427.30" r="0.90" fill="#1a1a1a" />
<line x1="383.50" y1="425.95" x2="383.50" y2="428.65" stroke="#1a1a1a" stroke-width="0.45" />
<line x1="381.88" y1="426.62" x2="384.22" y2="427.98" stroke="#1a1a1a" stroke-width="0.45" />
<line x1="384.22" y1="426.62" x2="381.88" y2="427.98" stroke="#1a1a1a" stroke-width="0.45" />
<circle cx="386.35" cy="427.30" r="0.90" fill="#1a1a1a" />
<line x1="386.50" y1="425.95" x2="386.50" y2="428.65" stroke="#1a1a1a" stroke-width="0.45" />
<line x1="385.18" y1="426.62" x2="387.52" y2="427.98" stroke="#1a1a1a" stroke-width="0.45" />
<line x1="387.52" y1="426.62" x2="385.18" y2="427.98" stroke="#1a1a1a" stroke-width="0.45" />
<line x1="319.40" y1="66.60" x2="319.40" y2="165.10" stroke="#231f20" stroke-width="1.3" />
<line x1="318.90" y1="164.60" x2="512.70" y2="164.60" stroke="#231f20" stroke-width="1.3" />
<line x1="316.20" y1="164.50" x2="319.40" y2="164.50" stroke="#231f20" stroke-width="1.0" />
<line x1="316.20" y1="154.50" x2="319.40" y2="154.50" stroke="#231f20" stroke-width="1.0" />
<line x1="316.20" y1="145.50" x2="319.40" y2="145.50" stroke="#231f20" stroke-width="1.0" />
<line x1="316.20" y1="135.50" x2="319.40" y2="135.50" stroke="#231f20" stroke-width="1.0" />
<line x1="316.20" y1="125.50" x2="319.40" y2="125.50" stroke="#231f20" stroke-width="1.0" />
<line x1="316.20" y1="115.50" x2="319.40" y2="115.50" stroke="#231f20" stroke-width="1.0" />
<line x1="316.20" y1="105.50" x2="319.40" y2="105.50" stroke="#231f20" stroke-width="1.0" />
<line x1="316.20" y1="95.50" x2="319.40" y2="95.50" stroke="#231f20" stroke-width="1.0" />
<line x1="316.20" y1="86.50" x2="319.40" y2="86.50" stroke="#231f20" stroke-width="1.0" />
<line x1="316.20" y1="76.50" x2="319.40" y2="76.50" stroke="#231f20" stroke-width="1.0" />
<line x1="316.20" y1="66.50" x2="319.40" y2="66.50" stroke="#231f20" stroke-width="1.0" />
<line x1="319.40" y1="29.20" x2="319.40" y2="55.50" stroke="#231f20" stroke-width="1.3" />
<line x1="316.20" y1="31.50" x2="319.40" y2="31.50" stroke="#231f20" stroke-width="1.0" />
<line x1="316.20" y1="44.50" x2="319.40" y2="44.50" stroke="#231f20" stroke-width="1.0" />
<line x1="48.40" y1="278.00" x2="48.40" y2="340.80" stroke="#231f20" stroke-width="1.3" />
<line x1="47.90" y1="340.30" x2="193.10" y2="340.30" stroke="#231f20" stroke-width="1.3" />
<line x1="45.40" y1="340.50" x2="48.40" y2="340.50" stroke="#231f20" stroke-width="1.0" />
<line x1="45.40" y1="324.50" x2="48.40" y2="324.50" stroke="#231f20" stroke-width="1.0" />
<line x1="45.40" y1="308.50" x2="48.40" y2="308.50" stroke="#231f20" stroke-width="1.0" />
<line x1="45.40" y1="293.50" x2="48.40" y2="293.50" stroke="#231f20" stroke-width="1.0" />
<line x1="45.40" y1="277.50" x2="48.40" y2="277.50" stroke="#231f20" stroke-width="1.0" />
<line x1="48.40" y1="241.50" x2="48.40" y2="267.30" stroke="#231f20" stroke-width="1.3" />
<line x1="45.40" y1="244.50" x2="48.40" y2="244.50" stroke="#231f20" stroke-width="1.0" />
<line x1="45.40" y1="251.50" x2="48.40" y2="251.50" stroke="#231f20" stroke-width="1.0" />
<line x1="45.40" y1="259.50" x2="48.40" y2="259.50" stroke="#231f20" stroke-width="1.0" />
<line x1="331.40" y1="231.97" x2="331.40" y2="341.10" stroke="#231f20" stroke-width="1.3" />
<line x1="330.90" y1="340.60" x2="401.50" y2="340.60" stroke="#231f20" stroke-width="1.3" />
<line x1="328.40" y1="340.50" x2="331.40" y2="340.50" stroke="#231f20" stroke-width="1.0" />
<line x1="328.40" y1="322.50" x2="331.40" y2="322.50" stroke="#231f20" stroke-width="1.0" />
<line x1="328.40" y1="305.50" x2="331.40" y2="305.50" stroke="#231f20" stroke-width="1.0" />
<line x1="328.40" y1="287.50" x2="331.40" y2="287.50" stroke="#231f20" stroke-width="1.0" />
<line x1="328.40" y1="269.50" x2="331.40" y2="269.50" stroke="#231f20" stroke-width="1.0" />
<line x1="328.40" y1="251.50" x2="331.40" y2="251.50" stroke="#231f20" stroke-width="1.0" />
<line x1="328.40" y1="234.50" x2="331.40" y2="234.50" stroke="#231f20" stroke-width="1.0" />
<line x1="439.40" y1="231.95" x2="439.40" y2="340.90" stroke="#231f20" stroke-width="1.3" />
<line x1="438.90" y1="340.40" x2="509.40" y2="340.40" stroke="#231f20" stroke-width="1.3" />
<line x1="436.40" y1="340.50" x2="439.40" y2="340.50" stroke="#231f20" stroke-width="1.0" />
<line x1="436.40" y1="322.50" x2="439.40" y2="322.50" stroke="#231f20" stroke-width="1.0" />
<line x1="436.40" y1="304.50" x2="439.40" y2="304.50" stroke="#231f20" stroke-width="1.0" />
<line x1="436.40" y1="287.50" x2="439.40" y2="287.50" stroke="#231f20" stroke-width="1.0" />
<line x1="436.40" y1="269.50" x2="439.40" y2="269.50" stroke="#231f20" stroke-width="1.0" />
<line x1="436.40" y1="251.50" x2="439.40" y2="251.50" stroke="#231f20" stroke-width="1.0" />
<line x1="436.40" y1="234.50" x2="439.40" y2="234.50" stroke="#231f20" stroke-width="1.0" />
<line x1="201.30" y1="428.90" x2="201.30" y2="537.50" stroke="#231f20" stroke-width="1.3" />
<line x1="200.80" y1="537.00" x2="271.90" y2="537.00" stroke="#231f20" stroke-width="1.3" />
<line x1="198.30" y1="537.50" x2="201.30" y2="537.50" stroke="#231f20" stroke-width="1.0" />
<line x1="198.30" y1="519.50" x2="201.30" y2="519.50" stroke="#231f20" stroke-width="1.0" />
<line x1="198.30" y1="501.50" x2="201.30" y2="501.50" stroke="#231f20" stroke-width="1.0" />
<line x1="198.30" y1="484.50" x2="201.30" y2="484.50" stroke="#231f20" stroke-width="1.0" />
<line x1="198.30" y1="466.50" x2="201.30" y2="466.50" stroke="#231f20" stroke-width="1.0" />
<line x1="198.30" y1="449.50" x2="201.30" y2="449.50" stroke="#231f20" stroke-width="1.0" />
<line x1="198.30" y1="431.50" x2="201.30" y2="431.50" stroke="#231f20" stroke-width="1.0" />
<line x1="326.80" y1="428.80" x2="326.80" y2="537.00" stroke="#231f20" stroke-width="1.3" />
<line x1="326.30" y1="536.50" x2="396.50" y2="536.50" stroke="#231f20" stroke-width="1.3" />
<line x1="323.80" y1="536.50" x2="326.80" y2="536.50" stroke="#231f20" stroke-width="1.0" />
<line x1="323.80" y1="524.50" x2="326.80" y2="524.50" stroke="#231f20" stroke-width="1.0" />
<line x1="323.80" y1="513.50" x2="326.80" y2="513.50" stroke="#231f20" stroke-width="1.0" />
<line x1="323.80" y1="501.50" x2="326.80" y2="501.50" stroke="#231f20" stroke-width="1.0" />
<line x1="323.80" y1="489.50" x2="326.80" y2="489.50" stroke="#231f20" stroke-width="1.0" />
<line x1="323.80" y1="477.50" x2="326.80" y2="477.50" stroke="#231f20" stroke-width="1.0" />
<line x1="323.80" y1="466.50" x2="326.80" y2="466.50" stroke="#231f20" stroke-width="1.0" />
<line x1="323.80" y1="454.50" x2="326.80" y2="454.50" stroke="#231f20" stroke-width="1.0" />
<line x1="323.80" y1="442.50" x2="326.80" y2="442.50" stroke="#231f20" stroke-width="1.0" />
<line x1="323.80" y1="430.50" x2="326.80" y2="430.50" stroke="#231f20" stroke-width="1.0" />
<rect x="0.00" y="0.00" width="520.00" height="1.10" fill="#000" />
<rect x="0.00" y="655.70" width="520.00" height="1.30" fill="#000" />
<rect x="0.00" y="0.00" width="1.30" height="657.00" fill="#000" />
<rect x="518.90" y="0.00" width="1.10" height="657.00" fill="#000" />
</svg>
</div>
</body></html>
